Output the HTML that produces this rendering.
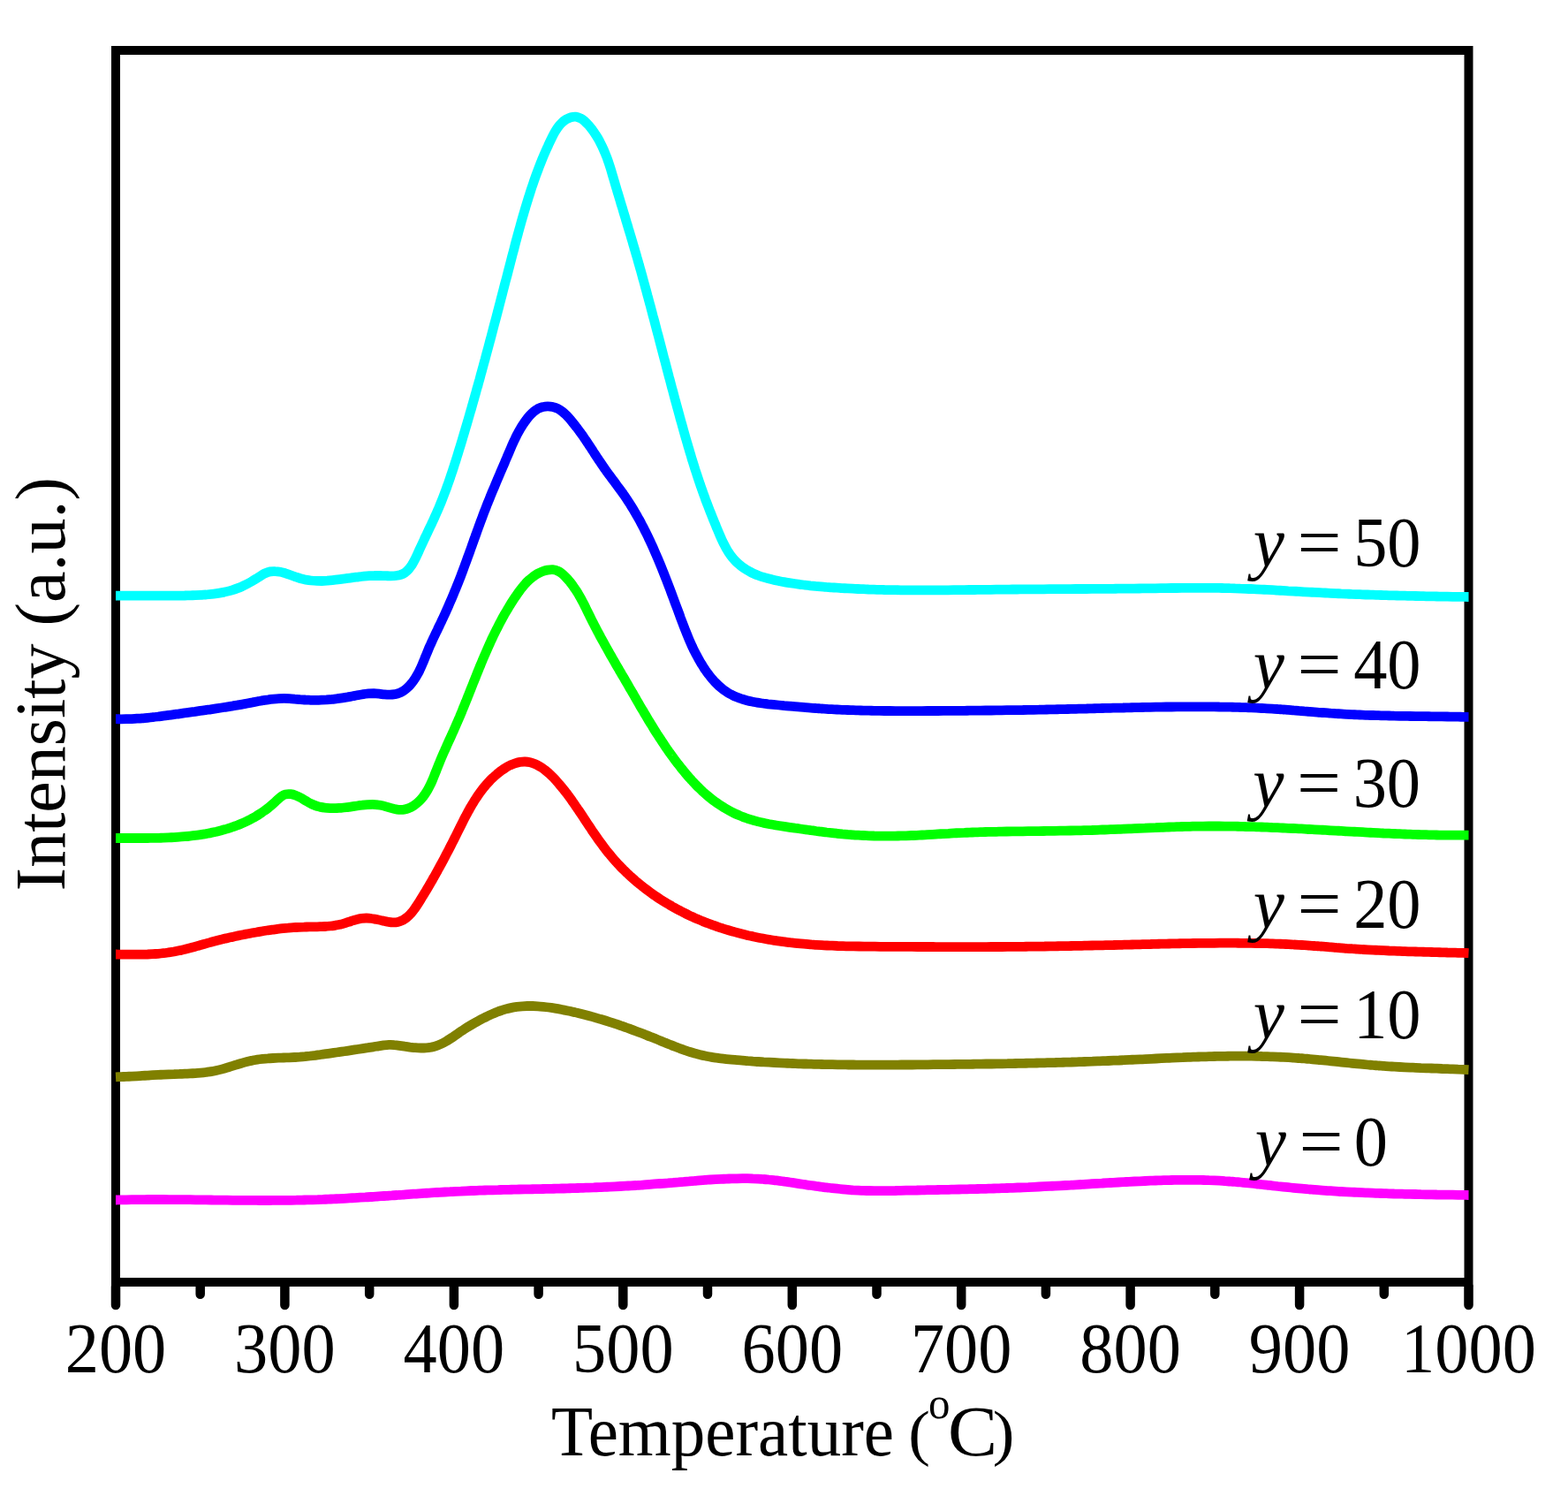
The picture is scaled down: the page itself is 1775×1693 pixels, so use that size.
<!DOCTYPE html>
<html lang="en"><head><meta charset="utf-8"><title>H2-TPR profiles</title>
<style>
html,body{margin:0;padding:0;background:#fff;}
body{width:1775px;height:1693px;overflow:hidden;}
svg{display:block;}
text{font-family:"Liberation Serif","Times New Roman",serif;fill:#000;font-size:80px;}
.tk{text-anchor:middle;}
.it{font-style:italic;}
.cv{fill:none;stroke-width:10.8;stroke-linejoin:round;stroke-linecap:butt;}
</style></head><body>
<svg width="1775" height="1693" viewBox="0 0 1775 1693">
<rect x="0" y="0" width="1775" height="1693" fill="#fff"/>
<rect x="131" y="57" width="1531.5" height="1394" fill="none" stroke="#000" stroke-width="10" stroke-linejoin="miter"/>
<path d="M131.0,1456 V1477 M226.7,1456 V1464.8 M322.4,1456 V1477 M418.2,1456 V1464.8 M513.9,1456 V1477 M609.6,1456 V1464.8 M705.3,1456 V1477 M801.0,1456 V1464.8 M896.8,1456 V1477 M992.5,1456 V1464.8 M1088.2,1456 V1477 M1183.9,1456 V1464.8 M1279.6,1456 V1477 M1375.3,1456 V1464.8 M1471.1,1456 V1477 M1566.8,1456 V1464.8 M1662.5,1456 V1477" fill="none" stroke="#000" stroke-width="10.5" stroke-linecap="round"/>
<path class="cv" stroke="#ff00ff" d="M131.0,1358.0 C133.0,1358.0 135.0,1357.9 137.0,1357.9 C139.0,1357.8 141.0,1357.8 143.0,1357.8 C145.0,1357.7 147.0,1357.7 149.0,1357.7 C151.0,1357.7 153.0,1357.6 155.0,1357.6 C157.1,1357.6 159.1,1357.6 161.1,1357.6 C163.1,1357.6 165.1,1357.5 167.1,1357.5 C169.1,1357.5 171.1,1357.5 173.1,1357.5 C175.1,1357.5 177.1,1357.5 179.1,1357.5 C181.1,1357.5 183.1,1357.5 185.1,1357.5 C187.1,1357.5 189.1,1357.5 191.1,1357.6 C193.1,1357.6 195.2,1357.6 197.2,1357.6 C199.2,1357.6 201.2,1357.6 203.2,1357.6 C205.2,1357.6 207.2,1357.7 209.2,1357.7 C211.2,1357.7 213.2,1357.7 215.2,1357.7 C217.2,1357.8 219.2,1357.8 221.2,1357.8 C223.2,1357.8 225.2,1357.8 227.2,1357.9 C229.3,1357.9 231.3,1357.9 233.3,1357.9 C235.3,1358.0 237.3,1358.0 239.3,1358.0 C241.3,1358.0 243.3,1358.1 245.3,1358.1 C247.3,1358.1 249.3,1358.1 251.3,1358.1 C253.3,1358.2 255.3,1358.2 257.3,1358.2 C259.3,1358.2 261.4,1358.2 263.4,1358.3 C265.4,1358.3 267.4,1358.3 269.4,1358.3 C271.4,1358.3 273.4,1358.4 275.4,1358.4 C277.4,1358.4 279.4,1358.4 281.4,1358.4 C283.4,1358.4 285.4,1358.4 287.4,1358.4 C289.4,1358.4 291.4,1358.5 293.4,1358.5 C295.5,1358.5 297.5,1358.5 299.5,1358.5 C301.5,1358.5 303.5,1358.5 305.5,1358.5 C307.5,1358.5 309.5,1358.4 311.5,1358.4 C313.5,1358.4 315.5,1358.4 317.5,1358.4 C319.5,1358.4 321.5,1358.4 323.5,1358.3 C325.5,1358.3 327.5,1358.3 329.5,1358.3 C331.5,1358.2 333.5,1358.2 335.6,1358.2 C337.6,1358.1 339.6,1358.1 341.6,1358.1 C343.6,1358.0 345.6,1358.0 347.6,1357.9 C349.6,1357.9 351.6,1357.8 353.6,1357.8 C355.6,1357.7 357.6,1357.6 359.6,1357.6 C361.6,1357.5 363.6,1357.4 365.6,1357.4 C367.6,1357.3 369.6,1357.2 371.6,1357.1 C373.6,1357.0 375.6,1357.0 377.6,1356.9 C379.6,1356.8 381.6,1356.7 383.6,1356.6 C385.6,1356.5 387.6,1356.4 389.6,1356.3 C391.6,1356.2 393.6,1356.1 395.6,1355.9 C397.6,1355.8 399.6,1355.7 401.6,1355.6 C403.6,1355.5 405.6,1355.4 407.6,1355.2 C409.6,1355.1 411.6,1355.0 413.7,1354.9 C415.7,1354.7 417.7,1354.6 419.7,1354.5 C421.7,1354.4 423.7,1354.2 425.7,1354.1 C427.7,1354.0 429.7,1353.8 431.7,1353.7 C433.7,1353.6 435.7,1353.4 437.7,1353.3 C439.7,1353.2 441.7,1353.0 443.7,1352.9 C445.7,1352.7 447.7,1352.6 449.7,1352.5 C451.7,1352.3 453.7,1352.2 455.7,1352.1 C457.7,1351.9 459.7,1351.8 461.7,1351.6 C463.7,1351.5 465.7,1351.4 467.7,1351.2 C469.7,1351.1 471.7,1351.0 473.7,1350.8 C475.7,1350.7 477.7,1350.6 479.7,1350.4 C481.7,1350.3 483.7,1350.2 485.7,1350.1 C487.7,1349.9 489.7,1349.8 491.7,1349.7 C493.7,1349.6 495.7,1349.4 497.7,1349.3 C499.7,1349.2 501.7,1349.1 503.7,1349.0 C505.7,1348.9 507.7,1348.8 509.7,1348.7 C511.7,1348.5 513.7,1348.4 515.7,1348.3 C517.7,1348.2 519.7,1348.1 521.7,1348.1 C523.7,1348.0 525.7,1347.9 527.7,1347.8 C529.7,1347.7 531.7,1347.6 533.7,1347.5 C535.7,1347.5 537.7,1347.4 539.7,1347.3 C541.8,1347.2 543.8,1347.2 545.8,1347.1 C547.8,1347.0 549.8,1347.0 551.8,1346.9 C553.8,1346.9 555.8,1346.8 557.8,1346.8 C559.8,1346.7 561.8,1346.6 563.8,1346.6 C565.8,1346.5 567.8,1346.5 569.8,1346.4 C571.8,1346.4 573.8,1346.3 575.8,1346.3 C577.8,1346.3 579.8,1346.2 581.8,1346.2 C583.8,1346.1 585.8,1346.1 587.8,1346.0 C589.9,1346.0 591.9,1346.0 593.9,1345.9 C595.9,1345.9 597.9,1345.8 599.9,1345.8 C601.9,1345.8 603.9,1345.7 605.9,1345.7 C607.9,1345.6 609.9,1345.6 611.9,1345.6 C613.9,1345.5 615.9,1345.5 617.9,1345.4 C619.9,1345.4 621.9,1345.3 623.9,1345.3 C625.9,1345.3 627.9,1345.2 629.9,1345.2 C632.0,1345.1 634.0,1345.1 636.0,1345.0 C638.0,1345.0 640.0,1344.9 642.0,1344.8 C644.0,1344.8 646.0,1344.7 648.0,1344.7 C650.0,1344.6 652.0,1344.6 654.0,1344.5 C656.0,1344.4 658.0,1344.4 660.0,1344.3 C662.0,1344.2 664.0,1344.2 666.0,1344.1 C668.0,1344.0 670.0,1343.9 672.0,1343.9 C674.0,1343.8 676.0,1343.7 678.0,1343.6 C680.0,1343.6 682.1,1343.5 684.1,1343.4 C686.1,1343.3 688.1,1343.2 690.1,1343.1 C692.1,1343.0 694.1,1342.9 696.1,1342.8 C698.1,1342.7 700.1,1342.6 702.1,1342.5 C704.1,1342.4 706.1,1342.3 708.1,1342.2 C710.1,1342.1 712.1,1341.9 714.1,1341.8 C716.1,1341.7 718.1,1341.6 720.1,1341.5 C722.1,1341.3 724.1,1341.2 726.1,1341.1 C728.1,1340.9 730.1,1340.8 732.1,1340.6 C734.1,1340.5 736.1,1340.4 738.1,1340.2 C740.1,1340.1 742.1,1339.9 744.1,1339.7 C746.1,1339.6 748.1,1339.4 750.1,1339.3 C752.1,1339.1 754.1,1338.9 756.1,1338.8 C758.1,1338.6 760.1,1338.4 762.1,1338.3 C764.1,1338.1 766.1,1337.9 768.1,1337.8 C770.1,1337.6 772.1,1337.4 774.1,1337.3 C776.1,1337.1 778.1,1336.9 780.1,1336.8 C782.1,1336.6 784.1,1336.4 786.1,1336.3 C788.1,1336.1 790.1,1336.0 792.1,1335.8 C794.1,1335.7 796.1,1335.6 798.1,1335.4 C800.1,1335.3 802.1,1335.1 804.1,1335.0 C806.1,1334.9 808.1,1334.8 810.1,1334.7 C812.1,1334.6 814.1,1334.5 816.1,1334.4 C818.1,1334.3 820.1,1334.2 822.1,1334.1 C824.1,1334.0 826.1,1334.0 828.1,1333.9 C830.1,1333.8 832.1,1333.8 834.1,1333.8 C836.2,1333.7 838.2,1333.7 840.2,1333.7 C842.2,1333.7 844.2,1333.7 846.2,1333.7 C848.2,1333.7 850.2,1333.8 852.2,1333.9 C854.2,1333.9 856.2,1334.0 858.2,1334.1 C860.2,1334.2 862.2,1334.3 864.2,1334.5 C866.2,1334.6 868.2,1334.8 870.2,1335.0 C872.2,1335.2 874.2,1335.4 876.1,1335.6 C878.1,1335.8 880.1,1336.1 882.1,1336.3 C884.1,1336.6 886.1,1336.9 888.1,1337.2 C890.1,1337.4 892.0,1337.7 894.0,1338.0 C896.0,1338.3 898.0,1338.6 900.0,1338.9 C902.0,1339.2 903.9,1339.5 905.9,1339.8 C907.9,1340.1 909.9,1340.4 911.9,1340.7 C913.9,1341.0 915.8,1341.3 917.8,1341.5 C919.8,1341.8 921.8,1342.1 923.8,1342.4 C925.8,1342.6 927.7,1342.9 929.7,1343.2 C931.7,1343.4 933.7,1343.7 935.7,1343.9 C937.7,1344.1 939.7,1344.4 941.7,1344.6 C943.6,1344.8 945.6,1345.0 947.6,1345.2 C949.6,1345.4 951.6,1345.6 953.6,1345.8 C955.6,1346.0 957.6,1346.2 959.6,1346.3 C961.6,1346.5 963.6,1346.6 965.6,1346.8 C967.6,1346.9 969.6,1347.0 971.6,1347.1 C973.6,1347.2 975.6,1347.3 977.6,1347.3 C979.6,1347.4 981.6,1347.5 983.6,1347.5 C985.6,1347.6 987.6,1347.6 989.6,1347.6 C991.6,1347.6 993.6,1347.6 995.6,1347.6 C997.6,1347.6 999.6,1347.6 1001.6,1347.6 C1003.6,1347.6 1005.7,1347.6 1007.7,1347.6 C1009.7,1347.5 1011.7,1347.5 1013.7,1347.5 C1015.7,1347.4 1017.7,1347.4 1019.7,1347.3 C1021.7,1347.3 1023.7,1347.3 1025.7,1347.2 C1027.8,1347.2 1029.8,1347.1 1031.8,1347.1 C1033.8,1347.1 1035.8,1347.0 1037.8,1347.0 C1039.8,1346.9 1041.8,1346.9 1043.8,1346.9 C1045.8,1346.8 1047.8,1346.8 1049.8,1346.7 C1051.8,1346.7 1053.8,1346.7 1055.8,1346.6 C1057.8,1346.6 1059.9,1346.5 1061.9,1346.5 C1063.9,1346.5 1065.9,1346.4 1067.9,1346.4 C1069.9,1346.4 1071.9,1346.3 1073.9,1346.3 C1075.9,1346.2 1077.9,1346.2 1079.9,1346.1 C1081.9,1346.1 1083.9,1346.1 1085.9,1346.0 C1087.9,1346.0 1089.9,1345.9 1091.9,1345.9 C1093.9,1345.8 1095.9,1345.8 1097.9,1345.7 C1099.9,1345.7 1101.9,1345.6 1103.9,1345.6 C1105.9,1345.5 1107.9,1345.5 1109.9,1345.4 C1111.9,1345.4 1113.9,1345.3 1115.9,1345.3 C1118.0,1345.2 1120.0,1345.2 1122.0,1345.1 C1124.0,1345.0 1126.0,1345.0 1128.0,1344.9 C1130.0,1344.8 1132.0,1344.8 1134.0,1344.7 C1136.0,1344.6 1138.0,1344.6 1140.0,1344.5 C1142.0,1344.4 1144.0,1344.4 1146.0,1344.3 C1148.0,1344.2 1150.0,1344.1 1152.0,1344.0 C1154.0,1344.0 1156.0,1343.9 1158.0,1343.8 C1160.0,1343.7 1162.0,1343.6 1164.0,1343.6 C1166.1,1343.5 1168.1,1343.4 1170.1,1343.3 C1172.1,1343.2 1174.1,1343.1 1176.1,1343.0 C1178.1,1342.9 1180.1,1342.8 1182.1,1342.7 C1184.1,1342.6 1186.1,1342.5 1188.1,1342.4 C1190.1,1342.3 1192.1,1342.2 1194.1,1342.1 C1196.1,1342.0 1198.1,1341.9 1200.1,1341.8 C1202.1,1341.7 1204.1,1341.6 1206.1,1341.5 C1208.1,1341.4 1210.1,1341.3 1212.1,1341.2 C1214.1,1341.0 1216.1,1340.9 1218.1,1340.8 C1220.1,1340.7 1222.1,1340.6 1224.1,1340.5 C1226.1,1340.3 1228.1,1340.2 1230.1,1340.1 C1232.1,1340.0 1234.2,1339.9 1236.2,1339.7 C1238.2,1339.6 1240.2,1339.5 1242.2,1339.4 C1244.2,1339.3 1246.2,1339.2 1248.2,1339.0 C1250.2,1338.9 1252.2,1338.8 1254.2,1338.7 C1256.2,1338.6 1258.2,1338.4 1260.2,1338.3 C1262.2,1338.2 1264.2,1338.1 1266.2,1338.0 C1268.2,1337.9 1270.2,1337.8 1272.2,1337.7 C1274.2,1337.6 1276.2,1337.4 1278.2,1337.3 C1280.2,1337.2 1282.2,1337.1 1284.2,1337.0 C1286.2,1336.9 1288.2,1336.8 1290.2,1336.8 C1292.2,1336.7 1294.2,1336.6 1296.2,1336.5 C1298.2,1336.4 1300.2,1336.3 1302.2,1336.2 C1304.2,1336.2 1306.2,1336.1 1308.2,1336.0 C1310.2,1335.9 1312.2,1335.9 1314.2,1335.8 C1316.2,1335.7 1318.3,1335.7 1320.3,1335.6 C1322.3,1335.6 1324.3,1335.5 1326.3,1335.5 C1328.3,1335.5 1330.3,1335.4 1332.3,1335.4 C1334.3,1335.4 1336.3,1335.3 1338.3,1335.3 C1340.3,1335.3 1342.3,1335.3 1344.3,1335.3 C1346.3,1335.3 1348.3,1335.3 1350.3,1335.3 C1352.3,1335.3 1354.4,1335.4 1356.4,1335.4 C1358.4,1335.4 1360.4,1335.5 1362.4,1335.5 C1364.4,1335.6 1366.4,1335.6 1368.4,1335.7 C1370.4,1335.7 1372.4,1335.8 1374.4,1335.9 C1376.4,1336.0 1378.4,1336.1 1380.4,1336.2 C1382.4,1336.3 1384.4,1336.4 1386.4,1336.6 C1388.4,1336.7 1390.4,1336.9 1392.4,1337.0 C1394.4,1337.2 1396.4,1337.3 1398.4,1337.5 C1400.4,1337.7 1402.4,1337.8 1404.4,1338.0 C1406.4,1338.2 1408.4,1338.4 1410.4,1338.6 C1412.4,1338.8 1414.4,1339.0 1416.3,1339.2 C1418.3,1339.4 1420.3,1339.6 1422.3,1339.8 C1424.3,1340.0 1426.3,1340.3 1428.3,1340.5 C1430.3,1340.7 1432.3,1340.9 1434.3,1341.1 C1436.3,1341.3 1438.3,1341.6 1440.3,1341.8 C1442.3,1342.0 1444.3,1342.2 1446.3,1342.5 C1448.3,1342.7 1450.3,1342.9 1452.2,1343.1 C1454.2,1343.3 1456.2,1343.5 1458.2,1343.7 C1460.2,1343.9 1462.2,1344.1 1464.2,1344.3 C1466.2,1344.5 1468.2,1344.7 1470.2,1344.9 C1472.2,1345.1 1474.2,1345.3 1476.2,1345.4 C1478.2,1345.6 1480.2,1345.8 1482.2,1346.0 C1484.2,1346.1 1486.2,1346.3 1488.2,1346.4 C1490.2,1346.6 1492.2,1346.8 1494.2,1346.9 C1496.2,1347.1 1498.2,1347.2 1500.2,1347.3 C1502.2,1347.5 1504.2,1347.6 1506.2,1347.7 C1508.2,1347.9 1510.2,1348.0 1512.2,1348.1 C1514.2,1348.2 1516.2,1348.4 1518.2,1348.5 C1520.2,1348.6 1522.2,1348.7 1524.2,1348.8 C1526.2,1348.9 1528.2,1349.0 1530.2,1349.1 C1532.2,1349.2 1534.2,1349.3 1536.2,1349.4 C1538.2,1349.5 1540.2,1349.6 1542.2,1349.7 C1544.2,1349.8 1546.2,1349.9 1548.2,1349.9 C1550.2,1350.0 1552.2,1350.1 1554.2,1350.2 C1556.2,1350.3 1558.2,1350.3 1560.2,1350.4 C1562.3,1350.5 1564.3,1350.5 1566.3,1350.6 C1568.3,1350.7 1570.3,1350.7 1572.3,1350.8 C1574.3,1350.8 1576.3,1350.9 1578.3,1351.0 C1580.3,1351.0 1582.3,1351.1 1584.3,1351.1 C1586.3,1351.2 1588.3,1351.2 1590.3,1351.3 C1592.3,1351.3 1594.3,1351.4 1596.3,1351.4 C1598.3,1351.5 1600.3,1351.5 1602.3,1351.5 C1604.4,1351.6 1606.4,1351.6 1608.4,1351.7 C1610.4,1351.7 1612.4,1351.7 1614.4,1351.8 C1616.4,1351.8 1618.4,1351.8 1620.4,1351.9 C1622.4,1351.9 1624.4,1351.9 1626.4,1352.0 C1628.4,1352.0 1630.4,1352.0 1632.4,1352.1 C1634.4,1352.1 1636.4,1352.1 1638.4,1352.2 C1640.4,1352.2 1642.5,1352.2 1644.5,1352.2 C1646.5,1352.3 1648.5,1352.3 1650.5,1352.3 C1652.5,1352.4 1654.5,1352.4 1656.5,1352.4 C1658.5,1352.4 1660.5,1352.5 1662.5,1352.5"/>
<path class="cv" stroke="#808000" d="M131.0,1218.8 C133.0,1218.7 135.0,1218.7 137.0,1218.6 C139.0,1218.5 141.0,1218.5 143.0,1218.4 C145.0,1218.3 147.0,1218.2 149.0,1218.1 C151.0,1218.0 153.0,1217.9 155.0,1217.8 C157.0,1217.7 159.0,1217.6 161.0,1217.4 C163.0,1217.3 165.0,1217.2 167.0,1217.1 C169.0,1217.0 171.0,1216.8 173.0,1216.7 C175.0,1216.6 177.0,1216.5 179.0,1216.4 C181.0,1216.3 183.0,1216.2 185.0,1216.1 C187.0,1216.0 189.0,1215.9 191.0,1215.8 C193.0,1215.7 195.0,1215.6 197.0,1215.6 C199.0,1215.5 201.0,1215.4 203.0,1215.4 C205.0,1215.3 207.0,1215.3 209.0,1215.2 C211.0,1215.1 213.1,1215.0 215.1,1214.9 C217.1,1214.8 219.1,1214.7 221.1,1214.6 C223.1,1214.5 225.1,1214.3 227.1,1214.1 C229.1,1214.0 231.1,1213.8 233.0,1213.5 C235.0,1213.2 237.0,1213.0 239.0,1212.6 C240.9,1212.3 242.9,1211.9 244.9,1211.5 C246.8,1211.1 248.8,1210.6 250.7,1210.1 C252.6,1209.6 254.6,1209.0 256.5,1208.4 C258.4,1207.9 260.3,1207.2 262.3,1206.6 C264.2,1206.1 266.1,1205.4 268.0,1204.8 C269.9,1204.2 271.9,1203.7 273.8,1203.1 C275.7,1202.5 277.6,1202.0 279.6,1201.5 C281.5,1201.0 283.5,1200.6 285.4,1200.2 C287.4,1199.8 289.3,1199.4 291.3,1199.1 C293.3,1198.8 295.2,1198.6 297.2,1198.4 C299.2,1198.2 301.2,1198.0 303.2,1197.9 C305.2,1197.7 307.2,1197.6 309.1,1197.5 C311.1,1197.4 313.1,1197.3 315.2,1197.2 C317.2,1197.1 319.2,1197.1 321.2,1197.0 C323.2,1196.9 325.2,1196.9 327.2,1196.8 C329.2,1196.7 331.2,1196.6 333.2,1196.5 C335.2,1196.4 337.2,1196.2 339.2,1196.1 C341.2,1195.9 343.2,1195.7 345.2,1195.6 C347.1,1195.4 349.1,1195.2 351.1,1195.0 C353.1,1194.7 355.1,1194.5 357.1,1194.3 C359.1,1194.0 361.1,1193.8 363.0,1193.5 C365.0,1193.3 367.0,1193.0 369.0,1192.7 C371.0,1192.5 373.0,1192.2 374.9,1191.9 C376.9,1191.6 378.9,1191.3 380.9,1191.0 C382.9,1190.8 384.9,1190.5 386.8,1190.2 C388.8,1189.9 390.8,1189.6 392.8,1189.3 C394.8,1189.0 396.8,1188.7 398.7,1188.4 C400.7,1188.1 402.7,1187.8 404.7,1187.5 C406.7,1187.2 408.7,1186.9 410.6,1186.6 C412.6,1186.3 414.6,1186.0 416.6,1185.7 C418.6,1185.4 420.6,1185.1 422.5,1184.8 C424.5,1184.5 426.5,1184.1 428.5,1183.8 C430.5,1183.5 432.4,1183.2 434.4,1182.9 C436.4,1182.7 438.3,1182.5 440.3,1182.4 C442.3,1182.3 444.2,1182.4 446.2,1182.6 C448.1,1182.7 450.1,1183.0 452.1,1183.3 C454.0,1183.6 456.0,1183.9 458.0,1184.2 C460.0,1184.5 462.0,1184.8 464.1,1185.1 C466.1,1185.3 468.1,1185.6 470.2,1185.7 C472.2,1185.9 474.2,1186.0 476.3,1186.0 C478.3,1186.0 480.3,1186.0 482.3,1185.8 C484.3,1185.7 486.3,1185.4 488.2,1185.1 C490.2,1184.7 492.1,1184.2 493.9,1183.6 C495.8,1183.0 497.6,1182.2 499.4,1181.4 C501.2,1180.6 503.0,1179.6 504.7,1178.6 C506.5,1177.6 508.2,1176.5 509.9,1175.4 C511.6,1174.3 513.2,1173.2 514.9,1172.0 C516.6,1170.9 518.2,1169.7 519.9,1168.5 C521.6,1167.4 523.2,1166.3 524.9,1165.2 C526.6,1164.1 528.2,1163.0 529.9,1162.0 C531.6,1161.0 533.3,1160.0 535.0,1159.0 C536.7,1158.0 538.4,1157.0 540.2,1156.1 C541.9,1155.1 543.7,1154.1 545.5,1153.2 C547.3,1152.3 549.1,1151.3 550.9,1150.5 C552.7,1149.6 554.6,1148.7 556.4,1147.9 C558.3,1147.1 560.1,1146.3 562.0,1145.5 C563.9,1144.8 565.8,1144.1 567.7,1143.5 C569.6,1142.8 571.5,1142.3 573.5,1141.7 C575.4,1141.2 577.3,1140.8 579.3,1140.4 C581.2,1140.0 583.2,1139.7 585.2,1139.4 C587.1,1139.2 589.1,1139.0 591.1,1138.8 C593.0,1138.7 595.0,1138.6 597.0,1138.5 C599.0,1138.5 601.0,1138.5 603.0,1138.5 C605.0,1138.6 607.0,1138.7 609.0,1138.8 C611.0,1138.9 613.0,1139.1 615.0,1139.3 C617.0,1139.5 619.0,1139.7 621.0,1140.0 C623.0,1140.3 625.0,1140.6 627.0,1140.9 C629.0,1141.2 630.9,1141.6 632.9,1141.9 C634.9,1142.3 636.9,1142.7 638.9,1143.1 C640.9,1143.5 642.8,1143.9 644.8,1144.3 C646.8,1144.7 648.7,1145.2 650.7,1145.6 C652.6,1146.1 654.6,1146.5 656.5,1147.0 C658.5,1147.5 660.4,1148.0 662.4,1148.5 C664.3,1149.0 666.2,1149.5 668.1,1150.0 C670.1,1150.5 672.0,1151.1 673.9,1151.6 C675.8,1152.2 677.7,1152.7 679.7,1153.3 C681.6,1153.8 683.5,1154.4 685.4,1155.0 C687.3,1155.6 689.2,1156.2 691.1,1156.8 C693.0,1157.4 694.9,1158.0 696.8,1158.7 C698.7,1159.3 700.5,1159.9 702.4,1160.6 C704.3,1161.2 706.2,1161.9 708.1,1162.6 C710.0,1163.2 711.8,1163.9 713.7,1164.6 C715.6,1165.3 717.5,1166.0 719.3,1166.7 C721.2,1167.4 723.1,1168.1 724.9,1168.8 C726.8,1169.5 728.7,1170.2 730.6,1171.0 C732.4,1171.7 734.3,1172.4 736.2,1173.2 C738.0,1173.9 739.9,1174.7 741.8,1175.4 C743.6,1176.2 745.5,1177.0 747.4,1177.7 C749.2,1178.5 751.1,1179.3 753.0,1180.0 C754.8,1180.8 756.7,1181.6 758.6,1182.3 C760.4,1183.0 762.3,1183.8 764.2,1184.5 C766.1,1185.2 767.9,1186.0 769.8,1186.6 C771.7,1187.3 773.6,1188.0 775.5,1188.7 C777.4,1189.3 779.3,1189.9 781.2,1190.5 C783.1,1191.1 785.0,1191.7 787.0,1192.2 C788.9,1192.8 790.8,1193.3 792.8,1193.7 C794.7,1194.2 796.6,1194.6 798.6,1195.0 C800.6,1195.4 802.5,1195.8 804.5,1196.1 C806.4,1196.5 808.4,1196.8 810.4,1197.1 C812.4,1197.4 814.3,1197.7 816.3,1197.9 C818.3,1198.2 820.3,1198.4 822.3,1198.6 C824.3,1198.8 826.3,1199.0 828.3,1199.2 C830.3,1199.4 832.3,1199.6 834.3,1199.7 C836.3,1199.9 838.3,1200.1 840.3,1200.2 C842.3,1200.4 844.3,1200.5 846.3,1200.7 C848.3,1200.8 850.3,1200.9 852.3,1201.1 C854.3,1201.2 856.3,1201.4 858.3,1201.5 C860.3,1201.6 862.3,1201.7 864.3,1201.9 C866.3,1202.0 868.3,1202.1 870.3,1202.2 C872.3,1202.3 874.3,1202.4 876.3,1202.5 C878.3,1202.6 880.3,1202.7 882.3,1202.8 C884.3,1202.9 886.3,1203.0 888.3,1203.1 C890.3,1203.2 892.3,1203.3 894.3,1203.4 C896.3,1203.5 898.3,1203.5 900.3,1203.6 C902.3,1203.7 904.3,1203.8 906.3,1203.8 C908.3,1203.9 910.3,1204.0 912.3,1204.0 C914.3,1204.1 916.3,1204.1 918.3,1204.2 C920.3,1204.3 922.3,1204.3 924.3,1204.4 C926.3,1204.4 928.3,1204.5 930.3,1204.5 C932.3,1204.5 934.3,1204.6 936.3,1204.6 C938.3,1204.7 940.3,1204.7 942.3,1204.7 C944.3,1204.8 946.3,1204.8 948.3,1204.8 C950.3,1204.9 952.3,1204.9 954.3,1204.9 C956.3,1204.9 958.3,1205.0 960.3,1205.0 C962.3,1205.0 964.3,1205.0 966.3,1205.0 C968.3,1205.0 970.3,1205.1 972.3,1205.1 C974.3,1205.1 976.4,1205.1 978.4,1205.1 C980.4,1205.1 982.4,1205.1 984.4,1205.1 C986.4,1205.1 988.4,1205.1 990.4,1205.1 C992.4,1205.1 994.4,1205.1 996.4,1205.1 C998.4,1205.1 1000.4,1205.1 1002.4,1205.1 C1004.4,1205.1 1006.4,1205.1 1008.4,1205.1 C1010.4,1205.1 1012.4,1205.1 1014.4,1205.1 C1016.4,1205.1 1018.4,1205.1 1020.4,1205.0 C1022.4,1205.0 1024.4,1205.0 1026.4,1205.0 C1028.4,1205.0 1030.4,1205.0 1032.4,1205.0 C1034.4,1204.9 1036.4,1204.9 1038.4,1204.9 C1040.4,1204.9 1042.4,1204.9 1044.4,1204.9 C1046.5,1204.8 1048.5,1204.8 1050.5,1204.8 C1052.5,1204.8 1054.5,1204.8 1056.5,1204.7 C1058.5,1204.7 1060.5,1204.7 1062.5,1204.7 C1064.5,1204.7 1066.5,1204.6 1068.5,1204.6 C1070.5,1204.6 1072.5,1204.6 1074.5,1204.6 C1076.5,1204.5 1078.5,1204.5 1080.5,1204.5 C1082.5,1204.5 1084.5,1204.4 1086.5,1204.4 C1088.5,1204.4 1090.5,1204.4 1092.5,1204.4 C1094.5,1204.3 1096.5,1204.3 1098.5,1204.3 C1100.5,1204.3 1102.5,1204.2 1104.5,1204.2 C1106.5,1204.2 1108.5,1204.2 1110.5,1204.1 C1112.5,1204.1 1114.5,1204.1 1116.5,1204.0 C1118.5,1204.0 1120.5,1204.0 1122.5,1204.0 C1124.5,1203.9 1126.5,1203.9 1128.5,1203.9 C1130.5,1203.8 1132.5,1203.8 1134.5,1203.8 C1136.5,1203.7 1138.5,1203.7 1140.5,1203.7 C1142.5,1203.6 1144.5,1203.6 1146.5,1203.6 C1148.6,1203.5 1150.6,1203.5 1152.6,1203.4 C1154.6,1203.4 1156.6,1203.4 1158.6,1203.3 C1160.6,1203.3 1162.6,1203.2 1164.6,1203.2 C1166.6,1203.2 1168.6,1203.1 1170.6,1203.1 C1172.6,1203.0 1174.6,1203.0 1176.6,1202.9 C1178.6,1202.9 1180.6,1202.8 1182.6,1202.8 C1184.6,1202.7 1186.6,1202.7 1188.6,1202.6 C1190.6,1202.6 1192.6,1202.5 1194.6,1202.5 C1196.6,1202.4 1198.6,1202.4 1200.6,1202.3 C1202.6,1202.3 1204.6,1202.2 1206.6,1202.2 C1208.6,1202.1 1210.6,1202.0 1212.6,1202.0 C1214.6,1201.9 1216.6,1201.8 1218.6,1201.8 C1220.6,1201.7 1222.6,1201.7 1224.6,1201.6 C1226.6,1201.5 1228.6,1201.5 1230.6,1201.4 C1232.6,1201.3 1234.6,1201.2 1236.6,1201.2 C1238.6,1201.1 1240.6,1201.0 1242.6,1200.9 C1244.6,1200.9 1246.6,1200.8 1248.6,1200.7 C1250.6,1200.6 1252.6,1200.6 1254.6,1200.5 C1256.6,1200.4 1258.6,1200.3 1260.6,1200.2 C1262.6,1200.1 1264.6,1200.0 1266.6,1200.0 C1268.6,1199.9 1270.6,1199.8 1272.7,1199.7 C1274.7,1199.6 1276.7,1199.5 1278.7,1199.4 C1280.7,1199.3 1282.7,1199.2 1284.7,1199.1 C1286.7,1199.0 1288.7,1198.9 1290.7,1198.8 C1292.7,1198.8 1294.7,1198.7 1296.7,1198.6 C1298.7,1198.5 1300.7,1198.4 1302.7,1198.3 C1304.7,1198.2 1306.7,1198.1 1308.7,1198.0 C1310.7,1197.9 1312.7,1197.8 1314.7,1197.7 C1316.7,1197.6 1318.7,1197.5 1320.7,1197.4 C1322.7,1197.3 1324.7,1197.3 1326.7,1197.2 C1328.7,1197.1 1330.7,1197.0 1332.7,1196.9 C1334.7,1196.8 1336.7,1196.7 1338.7,1196.7 C1340.7,1196.6 1342.7,1196.5 1344.7,1196.4 C1346.7,1196.3 1348.7,1196.3 1350.7,1196.2 C1352.7,1196.1 1354.7,1196.1 1356.7,1196.0 C1358.7,1195.9 1360.7,1195.9 1362.7,1195.8 C1364.7,1195.8 1366.7,1195.7 1368.7,1195.6 C1370.7,1195.6 1372.7,1195.5 1374.7,1195.5 C1376.7,1195.5 1378.7,1195.4 1380.7,1195.4 C1382.7,1195.3 1384.7,1195.3 1386.8,1195.3 C1388.8,1195.3 1390.8,1195.2 1392.8,1195.2 C1394.8,1195.2 1396.8,1195.2 1398.8,1195.2 C1400.8,1195.2 1402.8,1195.2 1404.8,1195.2 C1406.8,1195.2 1408.8,1195.2 1410.8,1195.2 C1412.8,1195.2 1414.8,1195.2 1416.8,1195.2 C1418.8,1195.3 1420.8,1195.3 1422.8,1195.3 C1424.7,1195.4 1426.7,1195.4 1428.7,1195.5 C1430.7,1195.5 1432.7,1195.6 1434.7,1195.6 C1436.7,1195.7 1438.7,1195.8 1440.7,1195.8 C1442.7,1195.9 1444.7,1196.0 1446.7,1196.1 C1448.7,1196.2 1450.7,1196.3 1452.7,1196.4 C1454.7,1196.5 1456.7,1196.6 1458.7,1196.7 C1460.7,1196.8 1462.7,1197.0 1464.7,1197.1 C1466.7,1197.2 1468.7,1197.4 1470.7,1197.5 C1472.7,1197.7 1474.7,1197.8 1476.7,1198.0 C1478.7,1198.2 1480.7,1198.3 1482.7,1198.5 C1484.7,1198.7 1486.7,1198.9 1488.7,1199.1 C1490.7,1199.3 1492.7,1199.4 1494.7,1199.6 C1496.7,1199.8 1498.7,1200.0 1500.6,1200.2 C1502.6,1200.4 1504.6,1200.6 1506.6,1200.8 C1508.6,1201.0 1510.6,1201.2 1512.6,1201.4 C1514.6,1201.7 1516.6,1201.9 1518.6,1202.1 C1520.6,1202.3 1522.6,1202.5 1524.6,1202.7 C1526.6,1202.9 1528.6,1203.1 1530.6,1203.3 C1532.6,1203.5 1534.6,1203.7 1536.6,1203.9 C1538.6,1204.1 1540.6,1204.3 1542.6,1204.4 C1544.5,1204.6 1546.5,1204.8 1548.5,1205.0 C1550.5,1205.2 1552.5,1205.3 1554.5,1205.5 C1556.5,1205.7 1558.5,1205.8 1560.5,1206.0 C1562.5,1206.1 1564.5,1206.3 1566.5,1206.4 C1568.5,1206.6 1570.5,1206.7 1572.5,1206.8 C1574.5,1206.9 1576.5,1207.1 1578.5,1207.2 C1580.5,1207.3 1582.5,1207.4 1584.5,1207.5 C1586.5,1207.6 1588.5,1207.7 1590.5,1207.8 C1592.5,1207.9 1594.5,1208.0 1596.5,1208.1 C1598.5,1208.2 1600.5,1208.2 1602.5,1208.3 C1604.5,1208.4 1606.5,1208.5 1608.5,1208.6 C1610.5,1208.6 1612.5,1208.7 1614.5,1208.8 C1616.5,1208.9 1618.5,1208.9 1620.5,1209.0 C1622.5,1209.1 1624.5,1209.2 1626.5,1209.2 C1628.5,1209.3 1630.5,1209.4 1632.5,1209.5 C1634.5,1209.5 1636.5,1209.6 1638.5,1209.7 C1640.5,1209.8 1642.5,1209.8 1644.5,1209.9 C1646.5,1210.0 1648.5,1210.1 1650.5,1210.2 C1652.5,1210.2 1654.5,1210.3 1656.5,1210.4 C1658.5,1210.5 1660.5,1210.6 1662.5,1210.7"/>
<path class="cv" stroke="#ff0000" d="M131.0,1080.0 C133.0,1080.0 135.0,1080.1 137.0,1080.1 C139.0,1080.1 141.0,1080.1 143.0,1080.2 C145.0,1080.2 147.0,1080.2 149.0,1080.2 C151.0,1080.2 153.0,1080.2 155.0,1080.2 C157.0,1080.2 159.0,1080.2 161.0,1080.1 C163.0,1080.1 165.0,1080.0 167.0,1080.0 C169.0,1079.9 171.0,1079.8 173.0,1079.7 C175.0,1079.6 177.0,1079.4 179.0,1079.3 C181.0,1079.1 183.0,1078.9 185.0,1078.7 C187.0,1078.5 188.9,1078.2 190.9,1077.9 C192.9,1077.6 194.9,1077.3 196.8,1077.0 C198.8,1076.6 200.8,1076.2 202.7,1075.8 C204.7,1075.4 206.6,1074.9 208.6,1074.5 C210.5,1074.0 212.4,1073.5 214.4,1073.0 C216.3,1072.5 218.3,1072.0 220.2,1071.5 C222.1,1070.9 224.1,1070.4 226.0,1069.8 C227.9,1069.3 229.9,1068.7 231.8,1068.2 C233.7,1067.7 235.7,1067.1 237.6,1066.6 C239.5,1066.0 241.5,1065.5 243.4,1065.0 C245.4,1064.5 247.3,1064.0 249.2,1063.5 C251.2,1063.0 253.1,1062.6 255.1,1062.1 C257.0,1061.7 259.0,1061.2 260.9,1060.8 C262.9,1060.4 264.8,1059.9 266.8,1059.5 C268.7,1059.1 270.7,1058.7 272.6,1058.3 C274.6,1057.9 276.5,1057.5 278.5,1057.1 C280.5,1056.8 282.4,1056.4 284.4,1056.0 C286.4,1055.7 288.3,1055.3 290.3,1055.0 C292.3,1054.6 294.3,1054.3 296.2,1054.0 C298.2,1053.6 300.2,1053.3 302.2,1053.0 C304.2,1052.7 306.2,1052.5 308.1,1052.2 C310.1,1051.9 312.1,1051.7 314.1,1051.4 C316.1,1051.2 318.1,1051.0 320.1,1050.7 C322.1,1050.5 324.1,1050.3 326.1,1050.2 C328.0,1050.0 330.0,1049.8 332.0,1049.7 C334.0,1049.6 336.0,1049.4 338.0,1049.3 C340.0,1049.2 342.0,1049.1 344.0,1049.1 C346.0,1049.0 348.0,1049.0 350.1,1048.9 C352.1,1048.9 354.1,1048.9 356.1,1048.9 C358.1,1048.8 360.1,1048.8 362.1,1048.7 C364.1,1048.7 366.0,1048.6 368.0,1048.5 C370.0,1048.4 372.0,1048.2 374.0,1048.0 C376.0,1047.8 377.9,1047.5 379.9,1047.2 C381.9,1046.9 383.8,1046.5 385.8,1046.1 C387.7,1045.6 389.7,1045.0 391.6,1044.4 C393.5,1043.8 395.5,1043.1 397.4,1042.5 C399.3,1041.9 401.2,1041.2 403.2,1040.7 C405.1,1040.2 407.0,1039.7 409.0,1039.4 C410.9,1039.2 412.9,1039.0 414.8,1039.0 C416.8,1039.0 418.8,1039.2 420.7,1039.5 C422.7,1039.7 424.7,1040.2 426.7,1040.5 C428.7,1040.9 430.7,1041.4 432.6,1041.9 C434.6,1042.3 436.6,1042.8 438.6,1043.2 C440.6,1043.5 442.5,1043.9 444.5,1043.9 C446.4,1044.0 448.4,1043.9 450.3,1043.5 C452.2,1043.1 454.1,1042.3 455.9,1041.4 C457.6,1040.5 459.3,1039.3 460.9,1038.0 C462.4,1036.7 463.9,1035.3 465.2,1033.8 C466.6,1032.3 467.8,1030.7 469.0,1029.0 C470.2,1027.4 471.3,1025.7 472.4,1024.0 C473.5,1022.3 474.6,1020.6 475.6,1018.9 C476.7,1017.1 477.8,1015.4 478.8,1013.7 C479.9,1012.0 480.9,1010.3 482.0,1008.6 C483.0,1006.9 484.0,1005.1 485.0,1003.4 C486.0,1001.7 487.0,1000.0 488.0,998.3 C489.0,996.6 490.0,994.8 491.0,993.1 C491.9,991.4 492.9,989.7 493.9,987.9 C494.8,986.2 495.8,984.5 496.7,982.8 C497.7,981.0 498.6,979.3 499.6,977.6 C500.5,975.8 501.4,974.1 502.4,972.3 C503.3,970.6 504.2,968.8 505.1,967.1 C506.0,965.3 506.9,963.6 507.9,961.8 C508.8,960.1 509.7,958.3 510.6,956.5 C511.5,954.7 512.4,953.0 513.3,951.2 C514.2,949.4 515.1,947.6 516.0,945.8 C516.9,944.0 517.8,942.2 518.7,940.4 C519.6,938.6 520.5,936.8 521.4,935.0 C522.3,933.2 523.2,931.4 524.1,929.6 C525.0,927.8 525.9,926.0 526.9,924.2 C527.8,922.4 528.8,920.6 529.7,918.8 C530.7,917.1 531.7,915.3 532.7,913.6 C533.7,911.8 534.7,910.1 535.8,908.4 C536.8,906.6 537.9,904.9 539.0,903.3 C540.1,901.6 541.2,899.9 542.4,898.3 C543.5,896.7 544.7,895.1 545.9,893.5 C547.1,891.9 548.4,890.4 549.7,888.8 C551.0,887.3 552.3,885.8 553.7,884.4 C555.0,882.9 556.4,881.5 557.9,880.2 C559.3,878.8 560.8,877.4 562.4,876.2 C563.9,874.9 565.5,873.6 567.1,872.4 C568.8,871.2 570.5,870.0 572.2,869.0 C573.9,867.9 575.7,866.9 577.5,866.0 C579.3,865.2 581.1,864.4 583.0,863.8 C584.9,863.2 586.8,862.6 588.7,862.3 C590.6,862.1 592.5,861.9 594.4,862.0 C596.4,862.1 598.3,862.4 600.2,862.8 C602.2,863.3 604.1,864.0 606.0,864.8 C607.9,865.6 609.7,866.7 611.5,867.7 C613.3,868.8 615.1,870.0 616.7,871.2 C618.3,872.5 619.9,873.8 621.4,875.1 C622.9,876.5 624.3,877.9 625.7,879.3 C627.1,880.7 628.4,882.2 629.7,883.6 C631.1,885.1 632.4,886.6 633.6,888.1 C634.9,889.6 636.2,891.1 637.4,892.7 C638.6,894.2 639.9,895.8 641.1,897.3 C642.3,898.9 643.4,900.5 644.6,902.1 C645.8,903.7 647.0,905.3 648.1,907.0 C649.3,908.6 650.4,910.2 651.5,911.9 C652.7,913.5 653.8,915.2 654.9,916.8 C656.0,918.5 657.2,920.2 658.3,921.8 C659.4,923.5 660.5,925.2 661.6,926.9 C662.7,928.5 663.8,930.2 664.9,931.9 C666.0,933.6 667.2,935.2 668.3,936.9 C669.4,938.6 670.5,940.2 671.6,941.9 C672.8,943.6 673.9,945.2 675.1,946.9 C676.2,948.5 677.4,950.2 678.5,951.8 C679.7,953.4 680.9,955.0 682.1,956.6 C683.3,958.3 684.5,959.9 685.7,961.4 C686.9,963.0 688.2,964.6 689.5,966.1 C690.7,967.7 692.0,969.2 693.3,970.7 C694.6,972.2 695.9,973.7 697.3,975.2 C698.6,976.7 700.0,978.2 701.4,979.6 C702.7,981.1 704.1,982.5 705.5,983.9 C707.0,985.3 708.4,986.7 709.8,988.1 C711.3,989.5 712.8,990.8 714.2,992.2 C715.7,993.5 717.2,994.8 718.7,996.1 C720.2,997.5 721.8,998.7 723.3,1000.0 C724.9,1001.3 726.4,1002.5 728.0,1003.8 C729.6,1005.0 731.2,1006.2 732.8,1007.4 C734.4,1008.6 736.0,1009.8 737.6,1011.0 C739.2,1012.1 740.9,1013.3 742.5,1014.4 C744.2,1015.5 745.9,1016.6 747.5,1017.7 C749.2,1018.8 750.9,1019.9 752.6,1020.9 C754.3,1022.0 756.1,1023.0 757.8,1024.0 C759.5,1025.0 761.2,1026.0 763.0,1027.0 C764.7,1028.0 766.5,1029.0 768.3,1029.9 C770.1,1030.8 771.8,1031.8 773.6,1032.7 C775.4,1033.6 777.2,1034.4 779.0,1035.3 C780.8,1036.2 782.6,1037.0 784.5,1037.8 C786.3,1038.7 788.1,1039.5 790.0,1040.3 C791.8,1041.0 793.7,1041.8 795.5,1042.6 C797.4,1043.3 799.2,1044.1 801.1,1044.8 C803.0,1045.5 804.9,1046.2 806.8,1046.9 C808.6,1047.5 810.5,1048.2 812.4,1048.9 C814.3,1049.5 816.2,1050.1 818.1,1050.7 C820.0,1051.4 822.0,1052.0 823.9,1052.5 C825.8,1053.1 827.7,1053.7 829.7,1054.2 C831.6,1054.8 833.5,1055.3 835.5,1055.8 C837.4,1056.3 839.3,1056.8 841.3,1057.3 C843.2,1057.8 845.2,1058.2 847.1,1058.7 C849.1,1059.1 851.0,1059.6 853.0,1060.0 C854.9,1060.4 856.9,1060.8 858.9,1061.2 C860.8,1061.6 862.8,1061.9 864.8,1062.3 C866.7,1062.7 868.7,1063.0 870.7,1063.3 C872.6,1063.7 874.6,1064.0 876.6,1064.3 C878.6,1064.6 880.5,1064.9 882.5,1065.1 C884.5,1065.4 886.5,1065.7 888.4,1065.9 C890.4,1066.2 892.4,1066.4 894.4,1066.7 C896.4,1066.9 898.4,1067.1 900.3,1067.3 C902.3,1067.5 904.3,1067.7 906.3,1067.9 C908.3,1068.1 910.3,1068.3 912.3,1068.4 C914.3,1068.6 916.3,1068.7 918.3,1068.9 C920.2,1069.0 922.2,1069.2 924.2,1069.3 C926.2,1069.4 928.2,1069.5 930.2,1069.6 C932.2,1069.8 934.2,1069.9 936.2,1070.0 C938.2,1070.1 940.2,1070.1 942.2,1070.2 C944.2,1070.3 946.2,1070.4 948.2,1070.5 C950.2,1070.5 952.2,1070.6 954.2,1070.6 C956.2,1070.7 958.2,1070.8 960.2,1070.8 C962.3,1070.9 964.3,1070.9 966.3,1070.9 C968.3,1071.0 970.3,1071.0 972.3,1071.0 C974.3,1071.1 976.3,1071.1 978.3,1071.1 C980.3,1071.2 982.3,1071.2 984.3,1071.2 C986.3,1071.2 988.3,1071.2 990.3,1071.2 C992.3,1071.3 994.3,1071.3 996.3,1071.3 C998.4,1071.3 1000.4,1071.3 1002.4,1071.3 C1004.4,1071.3 1006.4,1071.3 1008.4,1071.3 C1010.4,1071.3 1012.4,1071.4 1014.4,1071.4 C1016.4,1071.4 1018.4,1071.4 1020.4,1071.4 C1022.4,1071.4 1024.4,1071.4 1026.4,1071.4 C1028.4,1071.4 1030.4,1071.4 1032.4,1071.4 C1034.4,1071.5 1036.4,1071.5 1038.4,1071.5 C1040.4,1071.5 1042.4,1071.5 1044.4,1071.5 C1046.4,1071.5 1048.4,1071.5 1050.4,1071.5 C1052.4,1071.5 1054.4,1071.5 1056.4,1071.5 C1058.4,1071.5 1060.4,1071.6 1062.4,1071.6 C1064.4,1071.6 1066.4,1071.6 1068.4,1071.6 C1070.4,1071.6 1072.4,1071.6 1074.4,1071.6 C1076.4,1071.6 1078.4,1071.6 1080.4,1071.6 C1082.4,1071.6 1084.4,1071.6 1086.4,1071.6 C1088.4,1071.6 1090.4,1071.6 1092.4,1071.6 C1094.4,1071.6 1096.4,1071.6 1098.4,1071.6 C1100.4,1071.6 1102.4,1071.6 1104.4,1071.6 C1106.4,1071.6 1108.4,1071.6 1110.4,1071.6 C1112.4,1071.6 1114.4,1071.6 1116.4,1071.6 C1118.4,1071.6 1120.4,1071.6 1122.4,1071.5 C1124.4,1071.5 1126.4,1071.5 1128.4,1071.5 C1130.4,1071.5 1132.4,1071.5 1134.4,1071.5 C1136.4,1071.5 1138.4,1071.5 1140.4,1071.4 C1142.4,1071.4 1144.4,1071.4 1146.4,1071.4 C1148.4,1071.4 1150.4,1071.4 1152.4,1071.3 C1154.4,1071.3 1156.4,1071.3 1158.4,1071.3 C1160.4,1071.3 1162.4,1071.2 1164.4,1071.2 C1166.4,1071.2 1168.4,1071.2 1170.4,1071.1 C1172.4,1071.1 1174.4,1071.1 1176.4,1071.1 C1178.4,1071.0 1180.4,1071.0 1182.4,1071.0 C1184.5,1070.9 1186.5,1070.9 1188.5,1070.9 C1190.5,1070.9 1192.5,1070.8 1194.5,1070.8 C1196.5,1070.8 1198.5,1070.7 1200.5,1070.7 C1202.5,1070.7 1204.5,1070.6 1206.5,1070.6 C1208.5,1070.6 1210.5,1070.5 1212.5,1070.5 C1214.5,1070.5 1216.5,1070.4 1218.5,1070.4 C1220.5,1070.3 1222.5,1070.3 1224.5,1070.3 C1226.5,1070.2 1228.5,1070.2 1230.5,1070.1 C1232.5,1070.1 1234.5,1070.1 1236.5,1070.0 C1238.5,1070.0 1240.5,1069.9 1242.5,1069.9 C1244.5,1069.9 1246.5,1069.8 1248.5,1069.8 C1250.5,1069.7 1252.5,1069.7 1254.5,1069.6 C1256.5,1069.6 1258.5,1069.5 1260.5,1069.5 C1262.5,1069.4 1264.5,1069.4 1266.5,1069.4 C1268.5,1069.3 1270.5,1069.3 1272.5,1069.2 C1274.5,1069.2 1276.5,1069.1 1278.5,1069.1 C1280.5,1069.0 1282.5,1069.0 1284.5,1068.9 C1286.5,1068.9 1288.5,1068.8 1290.5,1068.8 C1292.5,1068.7 1294.5,1068.7 1296.5,1068.6 C1298.5,1068.6 1300.5,1068.5 1302.5,1068.5 C1304.5,1068.4 1306.5,1068.4 1308.5,1068.3 C1310.5,1068.3 1312.5,1068.2 1314.5,1068.2 C1316.5,1068.2 1318.5,1068.1 1320.5,1068.1 C1322.5,1068.0 1324.5,1068.0 1326.5,1067.9 C1328.5,1067.9 1330.5,1067.9 1332.5,1067.8 C1334.5,1067.8 1336.5,1067.7 1338.5,1067.7 C1340.5,1067.7 1342.5,1067.6 1344.5,1067.6 C1346.5,1067.6 1348.5,1067.5 1350.6,1067.5 C1352.6,1067.5 1354.6,1067.5 1356.6,1067.4 C1358.6,1067.4 1360.6,1067.4 1362.6,1067.4 C1364.6,1067.3 1366.6,1067.3 1368.6,1067.3 C1370.6,1067.3 1372.6,1067.3 1374.6,1067.3 C1376.6,1067.3 1378.6,1067.3 1380.6,1067.2 C1382.6,1067.2 1384.6,1067.2 1386.6,1067.2 C1388.6,1067.2 1390.6,1067.2 1392.6,1067.2 C1394.6,1067.2 1396.6,1067.2 1398.6,1067.2 C1400.6,1067.2 1402.6,1067.3 1404.6,1067.3 C1406.6,1067.3 1408.6,1067.3 1410.6,1067.3 C1412.6,1067.3 1414.6,1067.4 1416.6,1067.4 C1418.6,1067.4 1420.6,1067.4 1422.6,1067.5 C1424.6,1067.5 1426.6,1067.6 1428.6,1067.6 C1430.6,1067.6 1432.6,1067.7 1434.6,1067.7 C1436.6,1067.8 1438.6,1067.9 1440.6,1067.9 C1442.6,1068.0 1444.6,1068.1 1446.6,1068.1 C1448.6,1068.2 1450.6,1068.3 1452.6,1068.4 C1454.6,1068.5 1456.6,1068.5 1458.6,1068.6 C1460.6,1068.7 1462.6,1068.8 1464.6,1069.0 C1466.6,1069.1 1468.6,1069.2 1470.6,1069.3 C1472.6,1069.4 1474.6,1069.6 1476.6,1069.7 C1478.6,1069.8 1480.6,1070.0 1482.6,1070.1 C1484.6,1070.2 1486.6,1070.4 1488.6,1070.5 C1490.6,1070.7 1492.6,1070.8 1494.6,1071.0 C1496.6,1071.1 1498.6,1071.3 1500.5,1071.4 C1502.5,1071.6 1504.5,1071.7 1506.5,1071.9 C1508.5,1072.1 1510.5,1072.2 1512.5,1072.4 C1514.5,1072.5 1516.5,1072.7 1518.5,1072.8 C1520.5,1073.0 1522.5,1073.1 1524.5,1073.3 C1526.5,1073.4 1528.5,1073.5 1530.5,1073.7 C1532.5,1073.8 1534.5,1074.0 1536.5,1074.1 C1538.5,1074.2 1540.5,1074.3 1542.5,1074.5 C1544.5,1074.6 1546.5,1074.7 1548.5,1074.8 C1550.5,1074.9 1552.5,1075.0 1554.5,1075.1 C1556.5,1075.2 1558.5,1075.3 1560.5,1075.4 C1562.5,1075.5 1564.5,1075.6 1566.5,1075.7 C1568.5,1075.8 1570.5,1075.9 1572.5,1076.0 C1574.5,1076.0 1576.5,1076.1 1578.5,1076.2 C1580.5,1076.3 1582.5,1076.4 1584.5,1076.4 C1586.5,1076.5 1588.5,1076.6 1590.5,1076.6 C1592.5,1076.7 1594.5,1076.8 1596.5,1076.8 C1598.5,1076.9 1600.5,1076.9 1602.5,1077.0 C1604.5,1077.1 1606.5,1077.1 1608.5,1077.2 C1610.5,1077.2 1612.5,1077.3 1614.5,1077.3 C1616.5,1077.4 1618.5,1077.4 1620.5,1077.5 C1622.5,1077.6 1624.5,1077.6 1626.5,1077.7 C1628.5,1077.7 1630.5,1077.8 1632.5,1077.8 C1634.5,1077.9 1636.5,1077.9 1638.5,1078.0 C1640.5,1078.0 1642.5,1078.1 1644.5,1078.1 C1646.5,1078.2 1648.5,1078.2 1650.5,1078.3 C1652.5,1078.3 1654.5,1078.4 1656.5,1078.4 C1658.5,1078.5 1660.5,1078.5 1662.5,1078.6"/>
<path class="cv" stroke="#00ff00" d="M131.0,948.5 C133.0,948.5 135.1,948.5 137.1,948.5 C139.1,948.5 141.1,948.5 143.1,948.5 C145.1,948.5 147.1,948.5 149.2,948.5 C151.2,948.5 153.2,948.5 155.2,948.5 C157.2,948.5 159.2,948.5 161.2,948.5 C163.2,948.5 165.1,948.5 167.1,948.5 C169.1,948.5 171.1,948.4 173.1,948.4 C175.1,948.4 177.1,948.4 179.1,948.3 C181.1,948.3 183.1,948.2 185.0,948.2 C187.0,948.1 189.0,948.0 191.0,947.9 C193.0,947.8 195.0,947.7 197.0,947.6 C199.0,947.5 201.0,947.4 203.0,947.2 C205.0,947.1 207.0,946.9 209.0,946.7 C211.0,946.6 213.0,946.4 215.0,946.1 C217.0,945.9 219.0,945.7 221.0,945.4 C223.0,945.2 225.0,944.9 227.0,944.6 C229.0,944.3 231.0,943.9 233.0,943.6 C235.0,943.2 237.0,942.9 239.0,942.4 C240.9,942.0 242.9,941.6 244.9,941.2 C246.8,940.7 248.8,940.2 250.7,939.7 C252.7,939.2 254.6,938.6 256.5,938.1 C258.5,937.5 260.4,936.9 262.3,936.2 C264.2,935.6 266.0,934.9 267.9,934.2 C269.8,933.5 271.6,932.8 273.4,932.0 C275.3,931.2 277.1,930.4 278.8,929.6 C280.6,928.8 282.4,927.9 284.1,927.0 C285.9,926.0 287.6,925.1 289.3,924.1 C291.0,923.1 292.7,922.0 294.4,920.9 C296.0,919.8 297.7,918.7 299.3,917.5 C301.0,916.4 302.6,915.1 304.2,913.9 C305.8,912.6 307.3,911.3 308.9,909.9 C310.5,908.5 312.0,907.0 313.5,905.6 C315.1,904.2 316.6,902.7 318.2,901.5 C319.8,900.5 321.5,899.4 323.3,898.9 C325.1,898.5 327.1,898.5 329.0,898.7 C331.0,898.9 333.0,899.5 334.9,900.2 C336.9,900.9 338.8,901.9 340.6,902.9 C342.4,903.9 344.1,905.0 345.8,906.0 C347.6,907.0 349.2,908.1 351.0,909.0 C352.7,909.9 354.5,910.7 356.3,911.4 C358.1,912.1 360.0,912.6 361.9,913.1 C363.8,913.5 365.8,913.9 367.7,914.1 C369.7,914.4 371.7,914.5 373.7,914.6 C375.7,914.7 377.7,914.7 379.7,914.6 C381.8,914.6 383.8,914.4 385.9,914.3 C387.9,914.1 390.0,913.9 392.0,913.7 C394.1,913.4 396.1,913.2 398.1,912.9 C400.1,912.6 402.2,912.3 404.2,912.0 C406.1,911.7 408.1,911.4 410.1,911.2 C412.1,910.9 414.0,910.7 416.0,910.6 C418.0,910.5 419.9,910.4 421.9,910.4 C423.9,910.4 425.8,910.5 427.8,910.8 C429.8,911.0 431.8,911.4 433.7,911.9 C435.7,912.4 437.7,913.0 439.7,913.6 C441.7,914.2 443.7,914.8 445.7,915.3 C447.6,915.7 449.6,916.2 451.6,916.3 C453.5,916.5 455.5,916.5 457.4,916.2 C459.3,915.9 461.2,915.3 463.0,914.5 C464.8,913.8 466.6,912.8 468.3,911.7 C469.9,910.6 471.6,909.3 473.1,908.0 C474.6,906.7 476.0,905.2 477.3,903.7 C478.6,902.2 479.8,900.7 480.9,899.0 C482.1,897.4 483.1,895.7 484.1,894.0 C485.1,892.3 486.0,890.5 486.9,888.7 C487.8,886.9 488.6,885.0 489.4,883.2 C490.2,881.3 491.0,879.4 491.7,877.5 C492.5,875.7 493.2,873.7 494.0,871.8 C494.7,869.9 495.5,868.0 496.2,866.1 C497.0,864.2 497.8,862.4 498.5,860.5 C499.3,858.6 500.1,856.7 500.9,854.9 C501.7,853.0 502.5,851.2 503.4,849.3 C504.2,847.5 505.0,845.7 505.8,843.8 C506.6,842.0 507.5,840.1 508.3,838.3 C509.1,836.5 510.0,834.7 510.8,832.8 C511.6,831.0 512.4,829.2 513.3,827.4 C514.1,825.5 514.9,823.7 515.7,821.9 C516.5,820.0 517.3,818.2 518.1,816.4 C518.9,814.5 519.7,812.7 520.5,810.9 C521.2,809.0 522.0,807.2 522.8,805.3 C523.5,803.5 524.3,801.6 525.0,799.8 C525.8,797.9 526.5,796.1 527.3,794.2 C528.0,792.4 528.8,790.5 529.5,788.7 C530.3,786.8 531.0,785.0 531.7,783.1 C532.5,781.3 533.2,779.4 533.9,777.6 C534.7,775.7 535.4,773.9 536.1,772.0 C536.9,770.2 537.6,768.3 538.4,766.5 C539.1,764.6 539.8,762.8 540.6,760.9 C541.3,759.1 542.1,757.2 542.8,755.4 C543.6,753.6 544.3,751.7 545.1,749.9 C545.9,748.0 546.6,746.2 547.4,744.4 C548.2,742.5 549.0,740.7 549.8,738.9 C550.6,737.1 551.4,735.2 552.2,733.4 C553.0,731.6 553.8,729.8 554.6,728.0 C555.4,726.1 556.3,724.3 557.1,722.5 C558.0,720.7 558.8,718.9 559.7,717.1 C560.6,715.3 561.5,713.5 562.4,711.8 C563.3,710.0 564.2,708.2 565.1,706.4 C566.0,704.6 567.0,702.9 567.9,701.1 C568.9,699.3 569.8,697.6 570.8,695.8 C571.8,694.1 572.8,692.3 573.9,690.6 C574.9,688.9 575.9,687.1 577.0,685.4 C578.0,683.7 579.1,682.0 580.2,680.3 C581.3,678.6 582.4,676.9 583.6,675.2 C584.7,673.5 585.9,671.8 587.1,670.1 C588.3,668.5 589.5,666.8 590.8,665.3 C592.0,663.7 593.3,662.1 594.7,660.6 C596.0,659.1 597.4,657.7 598.9,656.4 C600.4,655.0 601.9,653.7 603.5,652.6 C605.1,651.4 606.7,650.3 608.5,649.3 C610.2,648.4 612.0,647.5 613.9,646.8 C615.8,646.1 617.8,645.5 619.7,645.1 C621.7,644.8 623.7,644.6 625.7,644.7 C627.6,644.9 629.6,645.3 631.3,646.1 C633.2,646.8 634.9,648.1 636.5,649.4 C638.1,650.7 639.6,652.3 641.0,653.8 C642.5,655.4 643.8,656.9 645.2,658.5 C646.5,660.1 647.7,661.7 648.9,663.4 C650.1,665.0 651.2,666.7 652.3,668.4 C653.4,670.0 654.4,671.7 655.4,673.5 C656.4,675.2 657.4,676.9 658.3,678.6 C659.2,680.4 660.2,682.1 661.1,683.9 C661.9,685.6 662.8,687.4 663.7,689.2 C664.6,690.9 665.4,692.7 666.3,694.5 C667.2,696.3 668.0,698.1 668.9,699.8 C669.8,701.6 670.7,703.4 671.6,705.1 C672.5,706.9 673.4,708.7 674.3,710.4 C675.2,712.2 676.1,714.0 677.1,715.7 C678.0,717.5 679.0,719.2 679.9,721.0 C680.9,722.7 681.8,724.5 682.8,726.2 C683.7,728.0 684.7,729.8 685.7,731.5 C686.7,733.3 687.7,735.0 688.6,736.7 C689.6,738.5 690.6,740.2 691.6,742.0 C692.6,743.7 693.6,745.5 694.6,747.2 C695.6,749.0 696.6,750.7 697.6,752.4 C698.7,754.2 699.7,755.9 700.7,757.7 C701.7,759.4 702.7,761.1 703.7,762.9 C704.7,764.6 705.8,766.4 706.8,768.1 C707.8,769.9 708.8,771.6 709.8,773.3 C710.8,775.1 711.8,776.8 712.8,778.6 C713.8,780.3 714.9,782.0 715.9,783.8 C716.9,785.5 717.9,787.3 718.9,789.0 C719.9,790.7 720.9,792.5 721.9,794.2 C722.9,796.0 723.9,797.7 724.9,799.4 C726.0,801.2 727.0,802.9 728.0,804.6 C729.0,806.3 730.0,808.1 731.1,809.8 C732.1,811.5 733.1,813.2 734.1,814.9 C735.2,816.7 736.2,818.4 737.3,820.1 C738.3,821.8 739.4,823.5 740.4,825.2 C741.5,826.9 742.6,828.6 743.6,830.3 C744.7,831.9 745.8,833.6 746.9,835.3 C748.0,837.0 749.1,838.6 750.2,840.3 C751.3,842.0 752.4,843.6 753.5,845.3 C754.6,846.9 755.8,848.6 756.9,850.2 C758.1,851.8 759.2,853.4 760.4,855.1 C761.6,856.7 762.8,858.3 764.0,859.9 C765.2,861.5 766.4,863.1 767.6,864.7 C768.8,866.2 770.1,867.8 771.3,869.4 C772.6,870.9 773.8,872.5 775.1,874.0 C776.4,875.6 777.7,877.1 779.0,878.6 C780.3,880.1 781.7,881.6 783.0,883.1 C784.4,884.6 785.7,886.1 787.1,887.5 C788.5,889.0 789.9,890.4 791.4,891.8 C792.8,893.2 794.2,894.6 795.7,896.0 C797.2,897.3 798.7,898.6 800.2,899.9 C801.7,901.2 803.3,902.5 804.9,903.8 C806.4,905.0 808.0,906.2 809.7,907.4 C811.3,908.6 812.9,909.7 814.6,910.8 C816.3,911.9 818.0,913.0 819.7,914.0 C821.4,915.1 823.2,916.1 824.9,917.0 C826.7,918.0 828.5,918.9 830.3,919.8 C832.1,920.7 833.9,921.5 835.7,922.3 C837.6,923.1 839.4,923.9 841.3,924.6 C843.1,925.3 845.0,925.9 846.9,926.6 C848.8,927.2 850.7,927.8 852.6,928.3 C854.5,928.9 856.5,929.4 858.4,929.9 C860.3,930.4 862.3,930.8 864.2,931.2 C866.2,931.7 868.2,932.1 870.1,932.5 C872.1,932.8 874.1,933.2 876.1,933.5 C878.0,933.9 880.0,934.2 882.0,934.5 C884.0,934.8 886.0,935.1 888.0,935.4 C890.0,935.7 892.0,936.0 894.0,936.3 C895.9,936.6 897.9,936.9 899.9,937.2 C901.9,937.4 903.9,937.7 905.9,938.0 C907.9,938.3 909.9,938.6 911.9,938.8 C913.9,939.1 915.8,939.4 917.8,939.7 C919.8,939.9 921.8,940.2 923.8,940.5 C925.8,940.7 927.8,941.0 929.8,941.2 C931.7,941.5 933.7,941.7 935.7,942.0 C937.7,942.2 939.7,942.4 941.7,942.6 C943.7,942.9 945.7,943.1 947.6,943.3 C949.6,943.5 951.6,943.7 953.6,943.9 C955.6,944.0 957.6,944.2 959.6,944.4 C961.6,944.5 963.6,944.7 965.6,944.8 C967.6,945.0 969.6,945.1 971.6,945.2 C973.6,945.3 975.6,945.4 977.6,945.5 C979.6,945.6 981.6,945.7 983.6,945.8 C985.6,945.8 987.6,945.9 989.6,946.0 C991.6,946.0 993.6,946.0 995.6,946.1 C997.6,946.1 999.6,946.1 1001.6,946.1 C1003.6,946.1 1005.6,946.1 1007.6,946.1 C1009.6,946.1 1011.6,946.1 1013.6,946.1 C1015.6,946.0 1017.6,946.0 1019.6,945.9 C1021.6,945.9 1023.6,945.8 1025.6,945.8 C1027.6,945.7 1029.6,945.6 1031.7,945.5 C1033.7,945.5 1035.7,945.4 1037.7,945.3 C1039.7,945.2 1041.7,945.1 1043.7,945.0 C1045.7,944.9 1047.7,944.8 1049.7,944.6 C1051.7,944.5 1053.7,944.4 1055.7,944.3 C1057.7,944.2 1059.7,944.1 1061.7,943.9 C1063.7,943.8 1065.7,943.7 1067.7,943.6 C1069.7,943.5 1071.7,943.4 1073.7,943.3 C1075.7,943.1 1077.7,943.0 1079.7,942.9 C1081.7,942.8 1083.7,942.7 1085.7,942.6 C1087.7,942.5 1089.7,942.4 1091.7,942.4 C1093.7,942.3 1095.7,942.2 1097.7,942.1 C1099.7,942.0 1101.7,942.0 1103.7,941.9 C1105.7,941.8 1107.7,941.8 1109.7,941.7 C1111.7,941.7 1113.7,941.6 1115.7,941.5 C1117.7,941.5 1119.7,941.4 1121.7,941.4 C1123.7,941.3 1125.7,941.3 1127.7,941.3 C1129.7,941.2 1131.7,941.2 1133.7,941.1 C1135.7,941.1 1137.8,941.1 1139.8,941.0 C1141.8,941.0 1143.8,941.0 1145.8,940.9 C1147.8,940.9 1149.8,940.9 1151.8,940.8 C1153.8,940.8 1155.8,940.8 1157.8,940.8 C1159.8,940.7 1161.8,940.7 1163.8,940.7 C1165.8,940.7 1167.8,940.7 1169.8,940.6 C1171.8,940.6 1173.8,940.6 1175.8,940.6 C1177.8,940.5 1179.8,940.5 1181.8,940.5 C1183.8,940.5 1185.8,940.4 1187.8,940.4 C1189.8,940.4 1191.8,940.4 1193.8,940.3 C1195.9,940.3 1197.9,940.3 1199.9,940.2 C1201.9,940.2 1203.9,940.2 1205.9,940.1 C1207.9,940.1 1209.9,940.1 1211.9,940.0 C1213.9,940.0 1215.9,940.0 1217.9,939.9 C1219.9,939.9 1221.9,939.8 1223.9,939.8 C1225.9,939.7 1227.9,939.7 1229.9,939.6 C1231.9,939.6 1233.9,939.5 1235.9,939.5 C1237.9,939.4 1239.9,939.3 1241.9,939.3 C1243.9,939.2 1245.9,939.1 1247.9,939.0 C1250.0,939.0 1252.0,938.9 1254.0,938.8 C1256.0,938.7 1258.0,938.7 1260.0,938.6 C1262.0,938.5 1264.0,938.4 1266.0,938.3 C1268.0,938.3 1270.0,938.2 1272.0,938.1 C1274.0,938.0 1276.0,937.9 1278.0,937.8 C1280.0,937.8 1282.0,937.7 1284.0,937.6 C1286.0,937.5 1288.0,937.4 1290.0,937.3 C1292.0,937.2 1294.0,937.1 1296.0,937.1 C1298.0,937.0 1300.0,936.9 1302.0,936.8 C1304.0,936.7 1306.0,936.6 1308.1,936.6 C1310.1,936.5 1312.1,936.4 1314.1,936.3 C1316.1,936.3 1318.1,936.2 1320.1,936.1 C1322.1,936.0 1324.1,936.0 1326.1,935.9 C1328.1,935.8 1330.1,935.8 1332.1,935.7 C1334.1,935.6 1336.1,935.6 1338.1,935.5 C1340.1,935.5 1342.1,935.4 1344.1,935.4 C1346.1,935.3 1348.1,935.3 1350.1,935.2 C1352.1,935.2 1354.1,935.2 1356.1,935.1 C1358.1,935.1 1360.1,935.1 1362.1,935.1 C1364.1,935.0 1366.1,935.0 1368.1,935.0 C1370.1,935.0 1372.1,935.0 1374.1,935.0 C1376.1,935.0 1378.1,935.0 1380.2,935.0 C1382.2,935.0 1384.2,935.0 1386.2,935.1 C1388.2,935.1 1390.2,935.1 1392.2,935.1 C1394.2,935.1 1396.2,935.2 1398.2,935.2 C1400.2,935.2 1402.2,935.3 1404.2,935.3 C1406.2,935.4 1408.2,935.4 1410.2,935.5 C1412.2,935.5 1414.2,935.6 1416.2,935.6 C1418.2,935.7 1420.2,935.7 1422.2,935.8 C1424.2,935.9 1426.2,935.9 1428.2,936.0 C1430.2,936.1 1432.2,936.2 1434.2,936.2 C1436.2,936.3 1438.2,936.4 1440.2,936.5 C1442.2,936.5 1444.2,936.6 1446.2,936.7 C1448.2,936.8 1450.2,936.9 1452.2,937.0 C1454.2,937.1 1456.2,937.2 1458.2,937.3 C1460.2,937.3 1462.2,937.4 1464.2,937.5 C1466.2,937.6 1468.2,937.7 1470.2,937.8 C1472.2,937.9 1474.3,938.0 1476.3,938.1 C1478.3,938.2 1480.3,938.4 1482.3,938.5 C1484.3,938.6 1486.3,938.7 1488.3,938.8 C1490.3,938.9 1492.3,939.0 1494.3,939.1 C1496.3,939.2 1498.3,939.3 1500.3,939.4 C1502.3,939.5 1504.3,939.7 1506.3,939.8 C1508.3,939.9 1510.3,940.0 1512.3,940.1 C1514.3,940.2 1516.3,940.3 1518.3,940.4 C1520.3,940.5 1522.3,940.7 1524.3,940.8 C1526.3,940.9 1528.3,941.0 1530.3,941.1 C1532.3,941.2 1534.3,941.3 1536.3,941.4 C1538.3,941.5 1540.3,941.6 1542.3,941.7 C1544.3,941.9 1546.3,942.0 1548.3,942.1 C1550.3,942.2 1552.3,942.3 1554.3,942.4 C1556.3,942.5 1558.3,942.6 1560.3,942.7 C1562.3,942.8 1564.3,942.9 1566.3,943.0 C1568.4,943.0 1570.4,943.1 1572.4,943.2 C1574.4,943.3 1576.4,943.4 1578.4,943.5 C1580.4,943.6 1582.4,943.7 1584.4,943.7 C1586.4,943.8 1588.4,943.9 1590.4,944.0 C1592.4,944.1 1594.4,944.1 1596.4,944.2 C1598.4,944.3 1600.4,944.3 1602.4,944.4 C1604.4,944.5 1606.4,944.5 1608.4,944.6 C1610.4,944.6 1612.4,944.7 1614.4,944.7 C1616.4,944.8 1618.4,944.8 1620.4,944.9 C1622.4,944.9 1624.4,945.0 1626.4,945.0 C1628.4,945.0 1630.4,945.1 1632.4,945.1 C1634.4,945.1 1636.5,945.2 1638.5,945.2 C1640.5,945.2 1642.5,945.2 1644.5,945.2 C1646.5,945.2 1648.5,945.2 1650.5,945.2 C1652.5,945.2 1654.5,945.2 1656.5,945.2 C1658.5,945.2 1660.5,945.2 1662.5,945.2"/>
<path class="cv" stroke="#0000ff" d="M131.0,813.7 C133.0,813.7 135.0,813.8 137.0,813.8 C139.0,813.8 141.0,813.8 143.0,813.7 C145.0,813.7 147.0,813.6 149.1,813.6 C151.1,813.5 153.0,813.4 155.0,813.2 C157.0,813.1 159.0,813.0 161.0,812.8 C163.0,812.6 165.0,812.5 167.0,812.3 C169.0,812.1 171.0,811.9 173.0,811.7 C175.0,811.4 177.0,811.2 179.0,811.0 C181.0,810.7 182.9,810.5 184.9,810.2 C186.9,810.0 188.9,809.7 190.9,809.4 C192.9,809.2 194.9,808.9 196.8,808.6 C198.8,808.3 200.8,808.1 202.8,807.8 C204.8,807.5 206.8,807.2 208.8,806.9 C210.7,806.7 212.7,806.4 214.7,806.1 C216.7,805.8 218.7,805.5 220.7,805.3 C222.6,805.0 224.6,804.7 226.6,804.4 C228.6,804.2 230.6,803.9 232.6,803.6 C234.5,803.3 236.5,803.1 238.5,802.8 C240.5,802.5 242.5,802.2 244.5,801.9 C246.4,801.6 248.4,801.3 250.4,801.0 C252.4,800.7 254.4,800.4 256.3,800.1 C258.3,799.8 260.3,799.5 262.3,799.2 C264.2,798.8 266.2,798.5 268.2,798.2 C270.2,797.8 272.1,797.5 274.1,797.1 C276.1,796.8 278.1,796.4 280.0,796.0 C282.0,795.6 284.0,795.2 285.9,794.9 C287.9,794.5 289.9,794.1 291.8,793.7 C293.8,793.4 295.8,793.0 297.8,792.7 C299.7,792.4 301.7,792.0 303.7,791.8 C305.7,791.5 307.6,791.3 309.6,791.1 C311.6,790.9 313.6,790.7 315.6,790.6 C317.6,790.5 319.6,790.4 321.6,790.4 C323.6,790.4 325.6,790.5 327.6,790.6 C329.6,790.7 331.6,790.9 333.6,791.1 C335.6,791.2 337.6,791.4 339.7,791.6 C341.7,791.7 343.7,791.9 345.7,792.0 C347.7,792.2 349.7,792.2 351.7,792.3 C353.7,792.4 355.7,792.4 357.7,792.4 C359.7,792.3 361.7,792.3 363.7,792.2 C365.7,792.1 367.7,792.0 369.7,791.9 C371.7,791.7 373.7,791.5 375.7,791.4 C377.7,791.2 379.7,790.9 381.7,790.7 C383.6,790.4 385.6,790.1 387.6,789.8 C389.6,789.5 391.6,789.2 393.6,788.9 C395.6,788.5 397.5,788.2 399.5,787.8 C401.5,787.4 403.4,787.0 405.4,786.7 C407.4,786.3 409.3,785.9 411.3,785.6 C413.2,785.3 415.2,785.1 417.2,784.9 C419.2,784.8 421.2,784.7 423.1,784.7 C425.2,784.8 427.2,785.0 429.2,785.2 C431.2,785.4 433.3,785.7 435.3,785.9 C437.3,786.1 439.3,786.3 441.3,786.2 C443.3,786.2 445.2,786.0 447.1,785.7 C449.0,785.3 450.9,784.7 452.7,784.0 C454.5,783.2 456.2,782.2 457.8,781.1 C459.4,780.0 460.9,778.7 462.3,777.3 C463.8,775.9 465.1,774.4 466.3,772.8 C467.6,771.3 468.7,769.6 469.8,767.9 C470.9,766.2 471.9,764.5 472.9,762.7 C473.9,760.9 474.8,759.0 475.7,757.2 C476.6,755.3 477.4,753.4 478.2,751.5 C479.0,749.6 479.8,747.6 480.6,745.7 C481.4,743.8 482.1,741.9 482.9,740.0 C483.7,738.1 484.4,736.2 485.2,734.3 C486.0,732.5 486.8,730.6 487.7,728.8 C488.5,727.0 489.3,725.2 490.1,723.4 C490.9,721.6 491.8,719.9 492.6,718.1 C493.5,716.3 494.3,714.6 495.2,712.8 C496.0,711.0 496.8,709.3 497.7,707.5 C498.5,705.8 499.4,704.0 500.2,702.2 C501.1,700.4 501.9,698.7 502.7,696.9 C503.5,695.1 504.4,693.3 505.2,691.4 C506.0,689.6 506.8,687.8 507.6,686.0 C508.4,684.1 509.2,682.3 510.0,680.4 C510.8,678.6 511.6,676.7 512.4,674.8 C513.2,673.0 514.0,671.1 514.7,669.2 C515.5,667.4 516.3,665.5 517.0,663.6 C517.8,661.7 518.5,659.8 519.3,658.0 C520.0,656.1 520.7,654.2 521.5,652.3 C522.2,650.4 522.9,648.5 523.6,646.7 C524.3,644.8 525.0,642.9 525.7,641.0 C526.4,639.1 527.1,637.3 527.8,635.4 C528.5,633.5 529.2,631.6 529.8,629.8 C530.5,627.9 531.2,626.0 531.9,624.1 C532.5,622.3 533.2,620.4 533.9,618.5 C534.5,616.6 535.2,614.8 535.9,612.9 C536.5,611.0 537.2,609.2 537.9,607.3 C538.6,605.4 539.2,603.5 539.9,601.7 C540.6,599.8 541.3,597.9 541.9,596.1 C542.6,594.2 543.3,592.3 544.0,590.4 C544.7,588.6 545.4,586.7 546.1,584.8 C546.8,583.0 547.5,581.1 548.2,579.2 C549.0,577.3 549.7,575.5 550.4,573.6 C551.1,571.7 551.9,569.8 552.6,568.0 C553.4,566.1 554.2,564.2 554.9,562.3 C555.7,560.5 556.4,558.6 557.2,556.7 C558.0,554.8 558.8,553.0 559.6,551.1 C560.3,549.2 561.1,547.4 561.9,545.5 C562.7,543.6 563.5,541.8 564.3,539.9 C565.1,538.1 565.9,536.2 566.6,534.4 C567.4,532.5 568.2,530.7 569.0,528.8 C569.8,527.0 570.6,525.2 571.4,523.3 C572.1,521.5 572.9,519.7 573.7,517.9 C574.4,516.1 575.2,514.3 576.0,512.5 C576.7,510.7 577.5,508.9 578.3,507.1 C579.0,505.3 579.8,503.5 580.6,501.8 C581.4,500.0 582.2,498.2 583.1,496.5 C583.9,494.7 584.8,493.0 585.7,491.2 C586.6,489.5 587.6,487.7 588.6,486.0 C589.6,484.2 590.7,482.5 591.8,480.8 C592.9,479.0 594.1,477.3 595.4,475.6 C596.6,473.9 597.9,472.2 599.3,470.6 C600.7,469.0 602.2,467.5 603.8,466.2 C605.3,464.9 607.0,463.6 608.7,462.7 C610.5,461.8 612.3,461.0 614.2,460.6 C616.1,460.1 618.0,459.8 620.0,459.8 C621.9,459.8 623.9,460.0 625.8,460.5 C627.6,460.9 629.5,461.5 631.3,462.4 C633.1,463.2 634.7,464.4 636.3,465.6 C637.9,466.8 639.4,468.2 640.9,469.6 C642.4,471.1 643.7,472.7 645.1,474.2 C646.4,475.8 647.7,477.4 649.0,479.0 C650.3,480.6 651.5,482.1 652.7,483.7 C654.0,485.3 655.1,486.9 656.3,488.5 C657.5,490.1 658.6,491.7 659.8,493.3 C660.9,494.9 662.0,496.6 663.2,498.2 C664.3,499.9 665.4,501.6 666.5,503.2 C667.6,504.9 668.7,506.6 669.8,508.2 C670.9,509.9 671.9,511.6 673.0,513.3 C674.1,515.0 675.2,516.7 676.3,518.3 C677.4,520.0 678.5,521.7 679.7,523.3 C680.8,525.0 681.9,526.7 683.1,528.3 C684.2,530.0 685.4,531.6 686.5,533.2 C687.7,534.8 688.9,536.4 690.1,538.1 C691.3,539.7 692.5,541.3 693.7,542.9 C694.9,544.5 696.1,546.1 697.3,547.7 C698.4,549.3 699.6,550.9 700.8,552.5 C702.0,554.1 703.2,555.7 704.3,557.3 C705.5,558.9 706.6,560.6 707.8,562.2 C708.9,563.8 710.0,565.5 711.1,567.2 C712.2,568.8 713.2,570.5 714.3,572.2 C715.4,573.9 716.4,575.6 717.4,577.3 C718.4,579.0 719.5,580.8 720.4,582.5 C721.4,584.2 722.4,586.0 723.4,587.7 C724.4,589.5 725.3,591.2 726.2,593.0 C727.2,594.8 728.1,596.6 729.0,598.3 C729.9,600.1 730.8,601.9 731.7,603.7 C732.6,605.5 733.5,607.3 734.3,609.1 C735.2,611.0 736.1,612.8 736.9,614.6 C737.7,616.4 738.6,618.3 739.4,620.1 C740.2,621.9 741.0,623.8 741.8,625.6 C742.6,627.5 743.4,629.3 744.2,631.2 C745.0,633.0 745.8,634.9 746.6,636.8 C747.3,638.6 748.1,640.5 748.9,642.4 C749.6,644.2 750.4,646.1 751.1,648.0 C751.9,649.8 752.6,651.7 753.3,653.6 C754.1,655.5 754.8,657.4 755.5,659.2 C756.2,661.1 756.9,663.0 757.7,664.9 C758.4,666.8 759.1,668.6 759.8,670.5 C760.5,672.4 761.2,674.3 761.9,676.1 C762.6,678.0 763.3,679.9 764.0,681.8 C764.7,683.6 765.4,685.5 766.1,687.4 C766.8,689.3 767.5,691.1 768.2,693.0 C768.9,694.8 769.6,696.7 770.2,698.6 C770.9,700.4 771.6,702.3 772.3,704.1 C773.0,706.0 773.7,707.8 774.4,709.7 C775.1,711.5 775.9,713.3 776.6,715.2 C777.3,717.0 778.0,718.8 778.8,720.6 C779.6,722.5 780.3,724.3 781.1,726.1 C781.9,727.9 782.7,729.7 783.5,731.5 C784.4,733.3 785.2,735.1 786.1,736.9 C787.0,738.7 787.9,740.4 788.9,742.2 C789.8,744.0 790.8,745.8 791.8,747.5 C792.8,749.3 793.9,751.0 795.0,752.8 C796.0,754.5 797.2,756.3 798.3,758.0 C799.5,759.7 800.7,761.4 802.0,763.0 C803.2,764.7 804.5,766.3 805.8,767.9 C807.2,769.4 808.5,771.0 809.9,772.4 C811.4,773.9 812.8,775.3 814.3,776.7 C815.8,778.0 817.3,779.3 818.9,780.5 C820.5,781.6 822.1,782.8 823.8,783.8 C825.5,784.8 827.2,785.7 828.9,786.6 C830.7,787.5 832.5,788.3 834.3,789.0 C836.1,789.7 838.0,790.4 839.8,791.0 C841.7,791.6 843.6,792.2 845.5,792.7 C847.5,793.2 849.4,793.6 851.4,794.0 C853.4,794.4 855.3,794.8 857.3,795.1 C859.3,795.5 861.3,795.7 863.4,796.0 C865.4,796.3 867.4,796.5 869.4,796.8 C871.5,797.0 873.5,797.2 875.5,797.4 C877.6,797.6 879.6,797.8 881.6,798.0 C883.7,798.2 885.7,798.4 887.7,798.6 C889.7,798.7 891.7,798.9 893.7,799.1 C895.8,799.3 897.8,799.5 899.8,799.6 C901.8,799.8 903.8,800.0 905.8,800.1 C907.8,800.3 909.7,800.5 911.7,800.6 C913.7,800.8 915.7,801.0 917.7,801.1 C919.7,801.3 921.7,801.4 923.7,801.5 C925.6,801.7 927.6,801.8 929.6,802.0 C931.6,802.1 933.6,802.2 935.6,802.3 C937.6,802.5 939.6,802.6 941.5,802.7 C943.5,802.8 945.5,802.9 947.5,803.0 C949.5,803.1 951.5,803.2 953.5,803.3 C955.5,803.4 957.5,803.4 959.5,803.5 C961.5,803.6 963.5,803.7 965.5,803.7 C967.5,803.8 969.5,803.9 971.5,803.9 C973.5,804.0 975.5,804.0 977.5,804.1 C979.5,804.1 981.5,804.2 983.5,804.2 C985.5,804.2 987.5,804.3 989.5,804.3 C991.5,804.3 993.5,804.4 995.5,804.4 C997.5,804.4 999.5,804.4 1001.5,804.5 C1003.5,804.5 1005.5,804.5 1007.5,804.5 C1009.5,804.5 1011.5,804.5 1013.5,804.6 C1015.6,804.6 1017.6,804.6 1019.6,804.6 C1021.6,804.6 1023.6,804.6 1025.6,804.6 C1027.6,804.6 1029.6,804.6 1031.6,804.6 C1033.6,804.6 1035.6,804.6 1037.6,804.6 C1039.7,804.6 1041.7,804.6 1043.7,804.6 C1045.7,804.5 1047.7,804.5 1049.7,804.5 C1051.7,804.5 1053.7,804.5 1055.7,804.5 C1057.7,804.5 1059.7,804.5 1061.7,804.5 C1063.7,804.5 1065.7,804.5 1067.8,804.4 C1069.8,804.4 1071.8,804.4 1073.8,804.4 C1075.8,804.4 1077.8,804.4 1079.8,804.4 C1081.8,804.4 1083.8,804.3 1085.8,804.3 C1087.8,804.3 1089.8,804.3 1091.8,804.3 C1093.8,804.3 1095.8,804.2 1097.8,804.2 C1099.8,804.2 1101.8,804.2 1103.8,804.2 C1105.8,804.1 1107.8,804.1 1109.8,804.1 C1111.8,804.1 1113.8,804.1 1115.8,804.0 C1117.8,804.0 1119.9,804.0 1121.9,804.0 C1123.9,803.9 1125.9,803.9 1127.9,803.9 C1129.9,803.9 1131.9,803.8 1133.9,803.8 C1135.9,803.8 1137.9,803.8 1139.9,803.7 C1141.9,803.7 1143.9,803.7 1145.9,803.7 C1147.9,803.6 1149.9,803.6 1151.9,803.6 C1153.9,803.5 1155.9,803.5 1157.9,803.5 C1159.9,803.4 1161.9,803.4 1163.9,803.4 C1165.9,803.3 1167.9,803.3 1169.9,803.3 C1171.9,803.2 1173.9,803.2 1175.9,803.2 C1177.9,803.1 1179.9,803.1 1181.9,803.1 C1183.9,803.0 1185.9,803.0 1187.9,802.9 C1189.9,802.9 1191.9,802.9 1193.9,802.8 C1195.9,802.8 1197.9,802.7 1199.9,802.7 C1201.9,802.6 1203.9,802.6 1205.9,802.6 C1207.9,802.5 1209.9,802.5 1211.9,802.4 C1214.0,802.4 1216.0,802.3 1218.0,802.3 C1220.0,802.2 1222.0,802.2 1224.0,802.1 C1226.0,802.1 1228.0,802.0 1230.0,802.0 C1232.0,801.9 1234.0,801.9 1236.0,801.8 C1238.0,801.8 1240.0,801.7 1242.0,801.7 C1244.0,801.6 1246.0,801.6 1248.0,801.5 C1250.0,801.5 1252.0,801.4 1254.0,801.4 C1256.0,801.3 1258.0,801.3 1260.0,801.2 C1262.0,801.2 1264.0,801.1 1266.1,801.1 C1268.1,801.0 1270.1,801.0 1272.1,801.0 C1274.1,800.9 1276.1,800.9 1278.1,800.8 C1280.1,800.8 1282.1,800.7 1284.1,800.7 C1286.1,800.6 1288.1,800.6 1290.1,800.6 C1292.1,800.5 1294.1,800.5 1296.1,800.4 C1298.1,800.4 1300.1,800.4 1302.1,800.3 C1304.1,800.3 1306.1,800.3 1308.1,800.2 C1310.2,800.2 1312.2,800.2 1314.2,800.1 C1316.2,800.1 1318.2,800.1 1320.2,800.0 C1322.2,800.0 1324.2,800.0 1326.2,800.0 C1328.2,799.9 1330.2,799.9 1332.2,799.9 C1334.2,799.9 1336.2,799.9 1338.2,799.9 C1340.2,799.8 1342.2,799.8 1344.2,799.8 C1346.2,799.8 1348.2,799.8 1350.2,799.8 C1352.2,799.8 1354.2,799.8 1356.2,799.8 C1358.2,799.8 1360.3,799.8 1362.3,799.8 C1364.3,799.8 1366.3,799.8 1368.3,799.8 C1370.3,799.9 1372.3,799.9 1374.3,799.9 C1376.3,799.9 1378.3,799.9 1380.3,800.0 C1382.3,800.0 1384.3,800.0 1386.3,800.1 C1388.3,800.1 1390.3,800.1 1392.3,800.2 C1394.3,800.2 1396.3,800.3 1398.3,800.3 C1400.3,800.4 1402.3,800.4 1404.3,800.5 C1406.3,800.5 1408.3,800.6 1410.3,800.7 C1412.3,800.8 1414.3,800.8 1416.3,800.9 C1418.3,801.0 1420.3,801.1 1422.3,801.2 C1424.3,801.3 1426.3,801.4 1428.3,801.5 C1430.3,801.6 1432.3,801.7 1434.3,801.8 C1436.3,801.9 1438.3,802.0 1440.3,802.1 C1442.3,802.3 1444.3,802.4 1446.3,802.5 C1448.3,802.7 1450.3,802.8 1452.3,803.0 C1454.3,803.1 1456.3,803.3 1458.3,803.4 C1460.3,803.6 1462.3,803.7 1464.3,803.9 C1466.3,804.0 1468.3,804.2 1470.3,804.4 C1472.3,804.5 1474.3,804.7 1476.3,804.9 C1478.3,805.0 1480.3,805.2 1482.3,805.3 C1484.3,805.5 1486.3,805.7 1488.3,805.8 C1490.3,806.0 1492.3,806.1 1494.3,806.3 C1496.3,806.4 1498.3,806.6 1500.3,806.7 C1502.3,806.9 1504.3,807.0 1506.3,807.2 C1508.3,807.3 1510.3,807.4 1512.3,807.6 C1514.3,807.7 1516.3,807.8 1518.3,807.9 C1520.3,808.1 1522.3,808.2 1524.3,808.3 C1526.3,808.4 1528.3,808.5 1530.3,808.6 C1532.3,808.7 1534.3,808.8 1536.3,808.9 C1538.3,809.0 1540.3,809.0 1542.3,809.1 C1544.3,809.2 1546.3,809.3 1548.3,809.3 C1550.3,809.4 1552.3,809.5 1554.3,809.5 C1556.3,809.6 1558.3,809.7 1560.3,809.7 C1562.3,809.8 1564.3,809.8 1566.3,809.9 C1568.3,809.9 1570.3,810.0 1572.3,810.0 C1574.3,810.1 1576.3,810.1 1578.3,810.2 C1580.3,810.2 1582.4,810.2 1584.4,810.3 C1586.4,810.3 1588.4,810.4 1590.4,810.4 C1592.4,810.4 1594.4,810.5 1596.4,810.5 C1598.4,810.5 1600.4,810.5 1602.4,810.6 C1604.4,810.6 1606.4,810.6 1608.4,810.6 C1610.4,810.7 1612.4,810.7 1614.4,810.7 C1616.4,810.7 1618.4,810.8 1620.4,810.8 C1622.4,810.8 1624.4,810.8 1626.4,810.9 C1628.4,810.9 1630.4,810.9 1632.4,810.9 C1634.4,811.0 1636.5,811.0 1638.5,811.0 C1640.5,811.0 1642.5,811.1 1644.5,811.1 C1646.5,811.1 1648.5,811.2 1650.5,811.2 C1652.5,811.2 1654.5,811.3 1656.5,811.3 C1658.5,811.3 1660.5,811.4 1662.5,811.4"/>
<path class="cv" stroke="#00ffff" d="M131.0,674.2 C133.0,674.2 135.0,674.2 137.1,674.2 C139.1,674.2 141.1,674.2 143.1,674.2 C145.1,674.2 147.1,674.2 149.1,674.2 C151.1,674.2 153.1,674.2 155.1,674.2 C157.1,674.2 159.1,674.2 161.1,674.2 C163.1,674.2 165.1,674.2 167.1,674.2 C169.1,674.2 171.1,674.2 173.1,674.2 C175.1,674.2 177.1,674.2 179.1,674.2 C181.1,674.2 183.0,674.2 185.0,674.2 C187.0,674.2 189.0,674.2 191.0,674.2 C193.0,674.2 195.0,674.1 197.0,674.1 C199.0,674.1 201.0,674.1 203.0,674.1 C205.0,674.0 207.1,674.0 209.1,674.0 C211.1,673.9 213.1,673.9 215.1,673.8 C217.1,673.8 219.2,673.7 221.2,673.7 C223.2,673.6 225.2,673.5 227.3,673.4 C229.3,673.3 231.3,673.1 233.3,673.0 C235.3,672.8 237.3,672.6 239.3,672.4 C241.3,672.2 243.3,671.9 245.3,671.6 C247.3,671.3 249.2,671.0 251.2,670.6 C253.2,670.3 255.1,669.9 257.0,669.4 C259.0,668.9 260.9,668.4 262.8,667.8 C264.7,667.2 266.6,666.6 268.4,665.9 C270.3,665.2 272.1,664.5 274.0,663.7 C275.8,662.8 277.6,661.9 279.4,661.0 C281.1,660.1 282.9,659.1 284.7,658.1 C286.4,657.1 288.1,656.0 289.9,655.0 C291.6,653.9 293.3,652.8 295.1,651.8 C296.8,650.7 298.5,649.6 300.3,648.7 C302.1,647.9 303.9,647.3 305.8,646.9 C307.7,646.5 309.7,646.5 311.6,646.6 C313.5,646.6 315.4,646.9 317.3,647.3 C319.3,647.7 321.2,648.3 323.1,648.8 C325.0,649.4 326.9,650.1 328.8,650.8 C330.7,651.5 332.6,652.2 334.6,652.9 C336.5,653.5 338.4,654.2 340.4,654.8 C342.3,655.3 344.3,655.8 346.3,656.2 C348.2,656.5 350.2,656.8 352.2,657.0 C354.2,657.2 356.2,657.4 358.2,657.4 C360.2,657.5 362.2,657.5 364.3,657.5 C366.3,657.4 368.3,657.3 370.3,657.2 C372.3,657.0 374.3,656.8 376.3,656.6 C378.3,656.4 380.3,656.2 382.3,655.9 C384.3,655.7 386.3,655.4 388.3,655.1 C390.3,654.9 392.2,654.6 394.2,654.3 C396.2,654.1 398.1,653.8 400.1,653.5 C402.1,653.3 404.0,653.0 406.0,652.8 C408.0,652.6 409.9,652.4 411.9,652.2 C413.9,652.0 415.9,651.8 417.8,651.7 C419.8,651.6 421.9,651.5 423.9,651.5 C425.9,651.4 427.9,651.4 430.0,651.4 C432.1,651.5 434.1,651.6 436.2,651.7 C438.3,651.7 440.3,651.9 442.4,651.8 C444.3,651.8 446.3,651.8 448.3,651.5 C450.1,651.3 452.0,651.0 453.7,650.4 C455.5,649.7 457.1,648.9 458.6,647.9 C460.1,646.8 461.5,645.4 462.8,644.0 C464.1,642.5 465.2,640.8 466.4,639.1 C467.5,637.3 468.5,635.4 469.5,633.5 C470.6,631.5 471.5,629.5 472.4,627.5 C473.4,625.5 474.2,623.5 475.1,621.5 C476.0,619.5 476.9,617.6 477.8,615.7 C478.7,613.8 479.6,611.9 480.4,610.1 C481.3,608.2 482.1,606.4 483.0,604.6 C483.8,602.9 484.7,601.1 485.5,599.3 C486.3,597.6 487.1,595.9 488.0,594.1 C488.8,592.4 489.6,590.7 490.4,589.0 C491.2,587.3 492.0,585.6 492.7,583.8 C493.5,582.1 494.3,580.4 495.0,578.6 C495.8,576.9 496.6,575.2 497.3,573.4 C498.0,571.6 498.8,569.8 499.5,568.0 C500.2,566.2 500.9,564.4 501.6,562.6 C502.3,560.8 503.0,558.9 503.7,557.1 C504.4,555.2 505.1,553.4 505.8,551.5 C506.5,549.6 507.1,547.7 507.8,545.9 C508.5,544.0 509.1,542.1 509.8,540.2 C510.4,538.2 511.1,536.3 511.7,534.4 C512.3,532.5 513.0,530.6 513.6,528.6 C514.2,526.7 514.8,524.8 515.5,522.8 C516.1,520.9 516.7,518.9 517.3,517.0 C517.9,515.0 518.5,513.1 519.1,511.1 C519.7,509.2 520.3,507.2 520.9,505.3 C521.5,503.3 522.1,501.4 522.7,499.4 C523.3,497.5 523.8,495.5 524.4,493.6 C525.0,491.6 525.6,489.7 526.2,487.7 C526.7,485.8 527.3,483.8 527.9,481.9 C528.5,479.9 529.0,478.0 529.6,476.1 C530.2,474.1 530.7,472.2 531.3,470.2 C531.8,468.3 532.4,466.4 533.0,464.4 C533.5,462.5 534.1,460.6 534.6,458.6 C535.2,456.7 535.7,454.8 536.3,452.8 C536.8,450.9 537.4,449.0 537.9,447.0 C538.5,445.1 539.0,443.2 539.5,441.2 C540.1,439.3 540.6,437.4 541.2,435.5 C541.7,433.5 542.2,431.6 542.8,429.7 C543.3,427.8 543.8,425.8 544.3,423.9 C544.9,422.0 545.4,420.0 545.9,418.1 C546.5,416.2 547.0,414.3 547.5,412.3 C548.0,410.4 548.5,408.5 549.1,406.6 C549.6,404.7 550.1,402.7 550.6,400.8 C551.1,398.9 551.7,397.0 552.2,395.0 C552.7,393.1 553.2,391.2 553.7,389.3 C554.2,387.3 554.7,385.4 555.3,383.5 C555.8,381.6 556.3,379.6 556.8,377.7 C557.3,375.8 557.8,373.9 558.3,371.9 C558.8,370.0 559.3,368.1 559.8,366.2 C560.4,364.2 560.9,362.3 561.4,360.4 C561.9,358.4 562.4,356.5 562.9,354.6 C563.4,352.7 563.9,350.7 564.4,348.8 C564.9,346.9 565.4,344.9 565.9,343.0 C566.4,341.1 566.9,339.1 567.4,337.2 C567.9,335.3 568.4,333.3 568.9,331.4 C569.4,329.5 569.9,327.5 570.4,325.6 C570.9,323.7 571.4,321.7 571.9,319.8 C572.5,317.8 573.0,315.9 573.5,314.0 C574.0,312.0 574.5,310.1 575.0,308.1 C575.5,306.2 576.0,304.2 576.5,302.3 C577.0,300.4 577.5,298.4 578.0,296.5 C578.5,294.5 579.0,292.6 579.5,290.6 C580.0,288.6 580.5,286.7 581.1,284.7 C581.6,282.8 582.1,280.8 582.6,278.9 C583.1,276.9 583.6,275.0 584.1,273.0 C584.7,271.1 585.2,269.1 585.7,267.2 C586.2,265.2 586.8,263.3 587.3,261.3 C587.8,259.4 588.4,257.4 588.9,255.5 C589.4,253.6 590.0,251.6 590.5,249.7 C591.1,247.7 591.6,245.8 592.2,243.9 C592.8,241.9 593.3,240.0 593.9,238.1 C594.5,236.2 595.0,234.2 595.6,232.3 C596.2,230.4 596.8,228.5 597.4,226.6 C597.9,224.7 598.5,222.8 599.2,220.9 C599.8,219.0 600.4,217.1 601.0,215.2 C601.6,213.3 602.2,211.4 602.9,209.5 C603.5,207.6 604.2,205.8 604.8,203.9 C605.5,202.0 606.1,200.1 606.8,198.3 C607.5,196.4 608.2,194.5 608.9,192.7 C609.6,190.8 610.3,189.0 611.0,187.1 C611.7,185.3 612.5,183.4 613.2,181.6 C614.0,179.7 614.7,177.9 615.5,176.0 C616.3,174.2 617.1,172.4 617.9,170.5 C618.7,168.7 619.5,166.9 620.4,165.1 C621.2,163.2 622.1,161.4 622.9,159.6 C623.8,157.8 624.7,156.0 625.6,154.2 C626.5,152.4 627.4,150.6 628.5,148.8 C629.5,147.1 630.6,145.3 631.8,143.7 C633.0,142.1 634.3,140.5 635.8,139.1 C637.3,137.7 639.0,136.3 640.8,135.2 C642.5,134.2 644.4,133.2 646.3,132.7 C648.1,132.2 650.0,131.9 651.8,132.1 C653.6,132.3 655.4,133.0 657.1,133.8 C658.8,134.7 660.4,136.0 662.0,137.3 C663.5,138.6 665.0,140.2 666.4,141.8 C667.9,143.5 669.2,145.2 670.5,146.9 C671.8,148.7 673.0,150.4 674.1,152.2 C675.3,153.9 676.3,155.7 677.4,157.4 C678.4,159.2 679.3,161.0 680.2,162.8 C681.2,164.6 682.0,166.4 682.8,168.2 C683.6,170.0 684.4,171.8 685.1,173.6 C685.9,175.4 686.6,177.3 687.3,179.1 C687.9,180.9 688.6,182.8 689.2,184.6 C689.8,186.5 690.4,188.3 691.0,190.2 C691.6,192.1 692.1,193.9 692.7,195.8 C693.2,197.7 693.8,199.6 694.3,201.4 C694.9,203.3 695.5,205.2 696.0,207.1 C696.6,209.0 697.1,210.9 697.7,212.8 C698.3,214.7 698.8,216.6 699.4,218.5 C700.0,220.4 700.5,222.3 701.1,224.2 C701.7,226.1 702.3,228.0 702.8,230.0 C703.4,231.9 704.0,233.8 704.6,235.7 C705.1,237.6 705.7,239.6 706.3,241.5 C706.9,243.4 707.5,245.3 708.1,247.3 C708.6,249.2 709.2,251.1 709.8,253.1 C710.4,255.0 711.0,256.9 711.5,258.9 C712.1,260.8 712.7,262.7 713.3,264.7 C713.9,266.6 714.4,268.5 715.0,270.5 C715.6,272.4 716.2,274.4 716.7,276.3 C717.3,278.2 717.9,280.2 718.4,282.1 C719.0,284.0 719.5,286.0 720.1,287.9 C720.7,289.9 721.2,291.8 721.8,293.7 C722.3,295.7 722.9,297.6 723.4,299.5 C724.0,301.5 724.5,303.4 725.1,305.3 C725.6,307.3 726.1,309.2 726.7,311.1 C727.2,313.1 727.7,315.0 728.3,317.0 C728.8,318.9 729.3,320.8 729.9,322.8 C730.4,324.7 730.9,326.6 731.5,328.6 C732.0,330.5 732.5,332.4 733.0,334.4 C733.6,336.3 734.1,338.2 734.6,340.2 C735.1,342.1 735.6,344.0 736.2,346.0 C736.7,347.9 737.2,349.8 737.7,351.8 C738.2,353.7 738.7,355.6 739.2,357.6 C739.8,359.5 740.3,361.4 740.8,363.4 C741.3,365.3 741.8,367.2 742.3,369.2 C742.8,371.1 743.3,373.0 743.8,375.0 C744.3,376.9 744.9,378.8 745.4,380.8 C745.9,382.7 746.4,384.6 746.9,386.6 C747.4,388.5 747.9,390.4 748.4,392.4 C748.9,394.3 749.4,396.2 749.9,398.2 C750.4,400.1 750.9,402.0 751.4,404.0 C751.9,405.9 752.5,407.8 753.0,409.8 C753.5,411.7 754.0,413.6 754.5,415.6 C755.0,417.5 755.5,419.4 756.0,421.4 C756.5,423.3 757.0,425.2 757.5,427.2 C758.1,429.1 758.6,431.0 759.1,433.0 C759.6,434.9 760.1,436.8 760.6,438.8 C761.1,440.7 761.7,442.6 762.2,444.6 C762.7,446.5 763.2,448.4 763.7,450.4 C764.2,452.3 764.8,454.3 765.3,456.2 C765.8,458.1 766.3,460.1 766.9,462.0 C767.4,463.9 767.9,465.9 768.5,467.8 C769.0,469.7 769.5,471.7 770.0,473.6 C770.6,475.6 771.1,477.5 771.7,479.4 C772.2,481.4 772.7,483.3 773.3,485.2 C773.8,487.2 774.4,489.1 774.9,491.0 C775.5,493.0 776.0,494.9 776.6,496.8 C777.1,498.8 777.7,500.7 778.3,502.6 C778.8,504.6 779.4,506.5 780.0,508.4 C780.5,510.4 781.1,512.3 781.7,514.2 C782.3,516.1 782.8,518.1 783.4,520.0 C784.0,521.9 784.6,523.8 785.2,525.7 C785.8,527.7 786.4,529.6 787.0,531.5 C787.7,533.4 788.3,535.3 788.9,537.2 C789.5,539.1 790.1,541.0 790.8,542.9 C791.4,544.8 792.1,546.7 792.7,548.6 C793.4,550.5 794.0,552.4 794.7,554.2 C795.3,556.1 796.0,558.0 796.7,559.9 C797.4,561.7 798.1,563.6 798.7,565.5 C799.4,567.3 800.1,569.2 800.9,571.1 C801.6,572.9 802.3,574.8 803.0,576.6 C803.7,578.5 804.5,580.3 805.2,582.2 C805.9,584.0 806.7,585.9 807.4,587.8 C808.2,589.6 808.9,591.5 809.7,593.3 C810.5,595.2 811.2,597.1 812.0,598.9 C812.8,600.8 813.6,602.7 814.4,604.6 C815.2,606.4 816.0,608.3 816.8,610.2 C817.7,612.0 818.5,613.9 819.5,615.7 C820.4,617.5 821.3,619.3 822.3,621.0 C823.3,622.8 824.4,624.5 825.5,626.1 C826.6,627.8 827.8,629.4 829.0,630.9 C830.3,632.5 831.6,634.0 833.0,635.4 C834.4,636.8 835.9,638.1 837.5,639.4 C839.0,640.7 840.6,641.9 842.3,643.0 C843.9,644.1 845.7,645.2 847.4,646.2 C849.2,647.1 850.9,648.1 852.8,648.9 C854.6,649.7 856.4,650.5 858.3,651.2 C860.2,651.9 862.1,652.6 864.0,653.2 C865.9,653.8 867.8,654.3 869.8,654.8 C871.7,655.3 873.7,655.8 875.6,656.2 C877.6,656.7 879.6,657.1 881.5,657.5 C883.5,657.9 885.5,658.3 887.5,658.6 C889.4,659.0 891.4,659.3 893.4,659.6 C895.4,659.9 897.4,660.2 899.4,660.5 C901.3,660.8 903.3,661.1 905.3,661.4 C907.3,661.6 909.3,661.9 911.3,662.1 C913.3,662.3 915.3,662.5 917.3,662.8 C919.2,663.0 921.2,663.2 923.2,663.4 C925.2,663.5 927.2,663.7 929.2,663.9 C931.2,664.1 933.2,664.2 935.2,664.4 C937.2,664.5 939.2,664.7 941.2,664.8 C943.2,664.9 945.2,665.1 947.2,665.2 C949.2,665.3 951.2,665.5 953.2,665.6 C955.2,665.7 957.2,665.8 959.2,665.9 C961.2,666.0 963.2,666.1 965.2,666.2 C967.2,666.3 969.2,666.4 971.2,666.5 C973.2,666.6 975.2,666.7 977.2,666.7 C979.2,666.8 981.2,666.9 983.2,667.0 C985.2,667.0 987.2,667.1 989.2,667.1 C991.2,667.2 993.2,667.3 995.2,667.3 C997.2,667.4 999.2,667.4 1001.2,667.5 C1003.2,667.5 1005.2,667.5 1007.2,667.6 C1009.2,667.6 1011.3,667.7 1013.3,667.7 C1015.3,667.7 1017.3,667.7 1019.3,667.8 C1021.3,667.8 1023.3,667.8 1025.3,667.8 C1027.3,667.8 1029.3,667.9 1031.3,667.9 C1033.3,667.9 1035.3,667.9 1037.3,667.9 C1039.3,667.9 1041.3,667.9 1043.3,667.9 C1045.3,667.9 1047.3,667.9 1049.3,667.9 C1051.3,667.9 1053.3,667.9 1055.3,667.9 C1057.4,667.9 1059.4,667.9 1061.4,667.9 C1063.4,667.9 1065.4,667.8 1067.4,667.8 C1069.4,667.8 1071.4,667.8 1073.4,667.8 C1075.4,667.8 1077.4,667.8 1079.4,667.7 C1081.4,667.7 1083.4,667.7 1085.4,667.7 C1087.4,667.7 1089.4,667.6 1091.4,667.6 C1093.4,667.6 1095.5,667.6 1097.5,667.5 C1099.5,667.5 1101.5,667.5 1103.5,667.5 C1105.5,667.5 1107.5,667.4 1109.5,667.4 C1111.5,667.4 1113.5,667.4 1115.5,667.3 C1117.5,667.3 1119.5,667.3 1121.5,667.3 C1123.5,667.2 1125.5,667.2 1127.5,667.2 C1129.5,667.2 1131.5,667.2 1133.6,667.1 C1135.6,667.1 1137.6,667.1 1139.6,667.1 C1141.6,667.1 1143.6,667.0 1145.6,667.0 C1147.6,667.0 1149.6,667.0 1151.6,667.0 C1153.6,667.0 1155.6,666.9 1157.6,666.9 C1159.6,666.9 1161.6,666.9 1163.6,666.9 C1165.6,666.9 1167.6,666.8 1169.6,666.8 C1171.6,666.8 1173.6,666.8 1175.6,666.8 C1177.7,666.8 1179.7,666.8 1181.7,666.8 C1183.7,666.7 1185.7,666.7 1187.7,666.7 C1189.7,666.7 1191.7,666.7 1193.7,666.7 C1195.7,666.7 1197.7,666.7 1199.7,666.6 C1201.7,666.6 1203.7,666.6 1205.7,666.6 C1207.7,666.6 1209.7,666.6 1211.7,666.6 C1213.7,666.6 1215.7,666.6 1217.7,666.5 C1219.7,666.5 1221.7,666.5 1223.7,666.5 C1225.7,666.5 1227.7,666.5 1229.8,666.5 C1231.8,666.5 1233.8,666.5 1235.8,666.4 C1237.8,666.4 1239.8,666.4 1241.8,666.4 C1243.8,666.4 1245.8,666.4 1247.8,666.4 C1249.8,666.3 1251.8,666.3 1253.8,666.3 C1255.8,666.3 1257.8,666.3 1259.8,666.3 C1261.8,666.3 1263.8,666.2 1265.8,666.2 C1267.8,666.2 1269.8,666.2 1271.8,666.2 C1273.8,666.2 1275.8,666.1 1277.8,666.1 C1279.9,666.1 1281.9,666.1 1283.9,666.1 C1285.9,666.0 1287.9,666.0 1289.9,666.0 C1291.9,666.0 1293.9,665.9 1295.9,665.9 C1297.9,665.9 1299.9,665.9 1301.9,665.8 C1303.9,665.8 1305.9,665.8 1307.9,665.8 C1309.9,665.7 1311.9,665.7 1313.9,665.7 C1315.9,665.7 1317.9,665.6 1319.9,665.6 C1322.0,665.6 1324.0,665.6 1326.0,665.5 C1328.0,665.5 1330.0,665.5 1332.0,665.5 C1334.0,665.4 1336.0,665.4 1338.0,665.4 C1340.0,665.4 1342.0,665.4 1344.0,665.4 C1346.0,665.3 1348.0,665.3 1350.0,665.3 C1352.0,665.3 1354.0,665.3 1356.0,665.3 C1358.0,665.3 1360.0,665.3 1362.0,665.3 C1364.1,665.3 1366.1,665.3 1368.1,665.3 C1370.1,665.3 1372.1,665.4 1374.1,665.4 C1376.1,665.4 1378.1,665.4 1380.1,665.4 C1382.1,665.5 1384.1,665.5 1386.1,665.6 C1388.1,665.6 1390.1,665.6 1392.1,665.7 C1394.1,665.7 1396.1,665.8 1398.1,665.9 C1400.1,665.9 1402.1,666.0 1404.1,666.1 C1406.1,666.1 1408.1,666.2 1410.1,666.3 C1412.1,666.4 1414.1,666.5 1416.1,666.5 C1418.1,666.6 1420.1,666.7 1422.1,666.8 C1424.1,666.9 1426.1,667.0 1428.1,667.1 C1430.1,667.2 1432.2,667.3 1434.2,667.4 C1436.2,667.5 1438.2,667.6 1440.2,667.7 C1442.2,667.8 1444.2,668.0 1446.2,668.1 C1448.2,668.2 1450.2,668.3 1452.2,668.4 C1454.2,668.5 1456.2,668.6 1458.2,668.8 C1460.2,668.9 1462.2,669.0 1464.2,669.1 C1466.2,669.2 1468.2,669.3 1470.2,669.4 C1472.2,669.5 1474.2,669.7 1476.2,669.8 C1478.2,669.9 1480.2,670.0 1482.2,670.1 C1484.2,670.2 1486.2,670.3 1488.2,670.4 C1490.2,670.5 1492.2,670.6 1494.2,670.7 C1496.2,670.8 1498.2,670.9 1500.2,671.0 C1502.2,671.1 1504.2,671.2 1506.2,671.3 C1508.2,671.4 1510.2,671.5 1512.2,671.6 C1514.2,671.7 1516.2,671.8 1518.2,671.9 C1520.2,671.9 1522.2,672.0 1524.2,672.1 C1526.2,672.2 1528.2,672.3 1530.2,672.4 C1532.3,672.4 1534.3,672.5 1536.3,672.6 C1538.3,672.7 1540.3,672.7 1542.3,672.8 C1544.3,672.9 1546.3,673.0 1548.3,673.0 C1550.3,673.1 1552.3,673.2 1554.3,673.2 C1556.3,673.3 1558.3,673.4 1560.3,673.4 C1562.3,673.5 1564.3,673.5 1566.3,673.6 C1568.3,673.7 1570.3,673.7 1572.3,673.8 C1574.3,673.8 1576.3,673.9 1578.3,673.9 C1580.3,674.0 1582.3,674.0 1584.3,674.1 C1586.3,674.1 1588.3,674.2 1590.4,674.2 C1592.4,674.3 1594.4,674.3 1596.4,674.4 C1598.4,674.4 1600.4,674.5 1602.4,674.5 C1604.4,674.6 1606.4,674.6 1608.4,674.6 C1610.4,674.7 1612.4,674.7 1614.4,674.8 C1616.4,674.8 1618.4,674.8 1620.4,674.9 C1622.4,674.9 1624.4,675.0 1626.4,675.0 C1628.4,675.0 1630.4,675.1 1632.4,675.1 C1634.4,675.1 1636.4,675.2 1638.4,675.2 C1640.5,675.2 1642.5,675.2 1644.5,675.3 C1646.5,675.3 1648.5,675.3 1650.5,675.4 C1652.5,675.4 1654.5,675.4 1656.5,675.4 C1658.5,675.5 1660.5,675.5 1662.5,675.5"/>
<text class="tk" transform="translate(131.0,1553) scale(0.955,1)">200</text>
<text class="tk" transform="translate(322.4,1553) scale(0.955,1)">300</text>
<text class="tk" transform="translate(513.9,1553) scale(0.955,1)">400</text>
<text class="tk" transform="translate(705.3,1553) scale(0.955,1)">500</text>
<text class="tk" transform="translate(896.8,1553) scale(0.955,1)">600</text>
<text class="tk" transform="translate(1088.2,1553) scale(0.955,1)">700</text>
<text class="tk" transform="translate(1279.6,1553) scale(0.955,1)">800</text>
<text class="tk" transform="translate(1471.1,1553) scale(0.955,1)">900</text>
<text class="tk" transform="translate(1662.5,1553) scale(0.955,1)">1000</text>
<text transform="translate(624,1647) scale(0.963,1)">Temperature <tspan x="419.8" y="-1.6" style="font-size:69.5px" textLength="25.6" lengthAdjust="spacingAndGlyphs">(</tspan><tspan x="443.4" y="-42.4" style="font-size:50.8px" textLength="25.4" lengthAdjust="spacingAndGlyphs">o</tspan><tspan x="466.3" y="0" textLength="58.2" lengthAdjust="spacingAndGlyphs">C</tspan><tspan x="519.0" y="-1.6" style="font-size:69.5px" textLength="25.6" lengthAdjust="spacingAndGlyphs">)</tspan></text>
<text transform="translate(72.5,1008.5) rotate(-90)">Intensity (a.u.)</text>
<text transform="translate(1418.8,640.8) scale(0.99,1)"><tspan class="it">y</tspan> <tspan x="50.2" textLength="50.6" lengthAdjust="spacingAndGlyphs">=</tspan> <tspan x="114.5" textLength="77.2" lengthAdjust="spacingAndGlyphs">50</tspan></text>
<text transform="translate(1418.8,778.6) scale(0.99,1)"><tspan class="it">y</tspan> <tspan x="50.2" textLength="50.6" lengthAdjust="spacingAndGlyphs">=</tspan> <tspan x="114.5" textLength="77.2" lengthAdjust="spacingAndGlyphs">40</tspan></text>
<text transform="translate(1418.3,912.5) scale(0.99,1)"><tspan class="it">y</tspan> <tspan x="50.2" textLength="50.6" lengthAdjust="spacingAndGlyphs">=</tspan> <tspan x="114.5" textLength="77.2" lengthAdjust="spacingAndGlyphs">30</tspan></text>
<text transform="translate(1418.8,1049.6) scale(0.99,1)"><tspan class="it">y</tspan> <tspan x="50.2" textLength="50.6" lengthAdjust="spacingAndGlyphs">=</tspan> <tspan x="114.5" textLength="77.2" lengthAdjust="spacingAndGlyphs">20</tspan></text>
<text transform="translate(1418.8,1174.8) scale(0.99,1)"><tspan class="it">y</tspan> <tspan x="50.2" textLength="50.6" lengthAdjust="spacingAndGlyphs">=</tspan> <tspan x="114.5" textLength="77.2" lengthAdjust="spacingAndGlyphs">10</tspan></text>
<text transform="translate(1420.8,1319) scale(0.99,1)"><tspan class="it">y</tspan> <tspan x="50.2" textLength="50.6" lengthAdjust="spacingAndGlyphs">=</tspan> <tspan x="113.2" textLength="38.6" lengthAdjust="spacingAndGlyphs">0</tspan></text>
</svg></body></html>
